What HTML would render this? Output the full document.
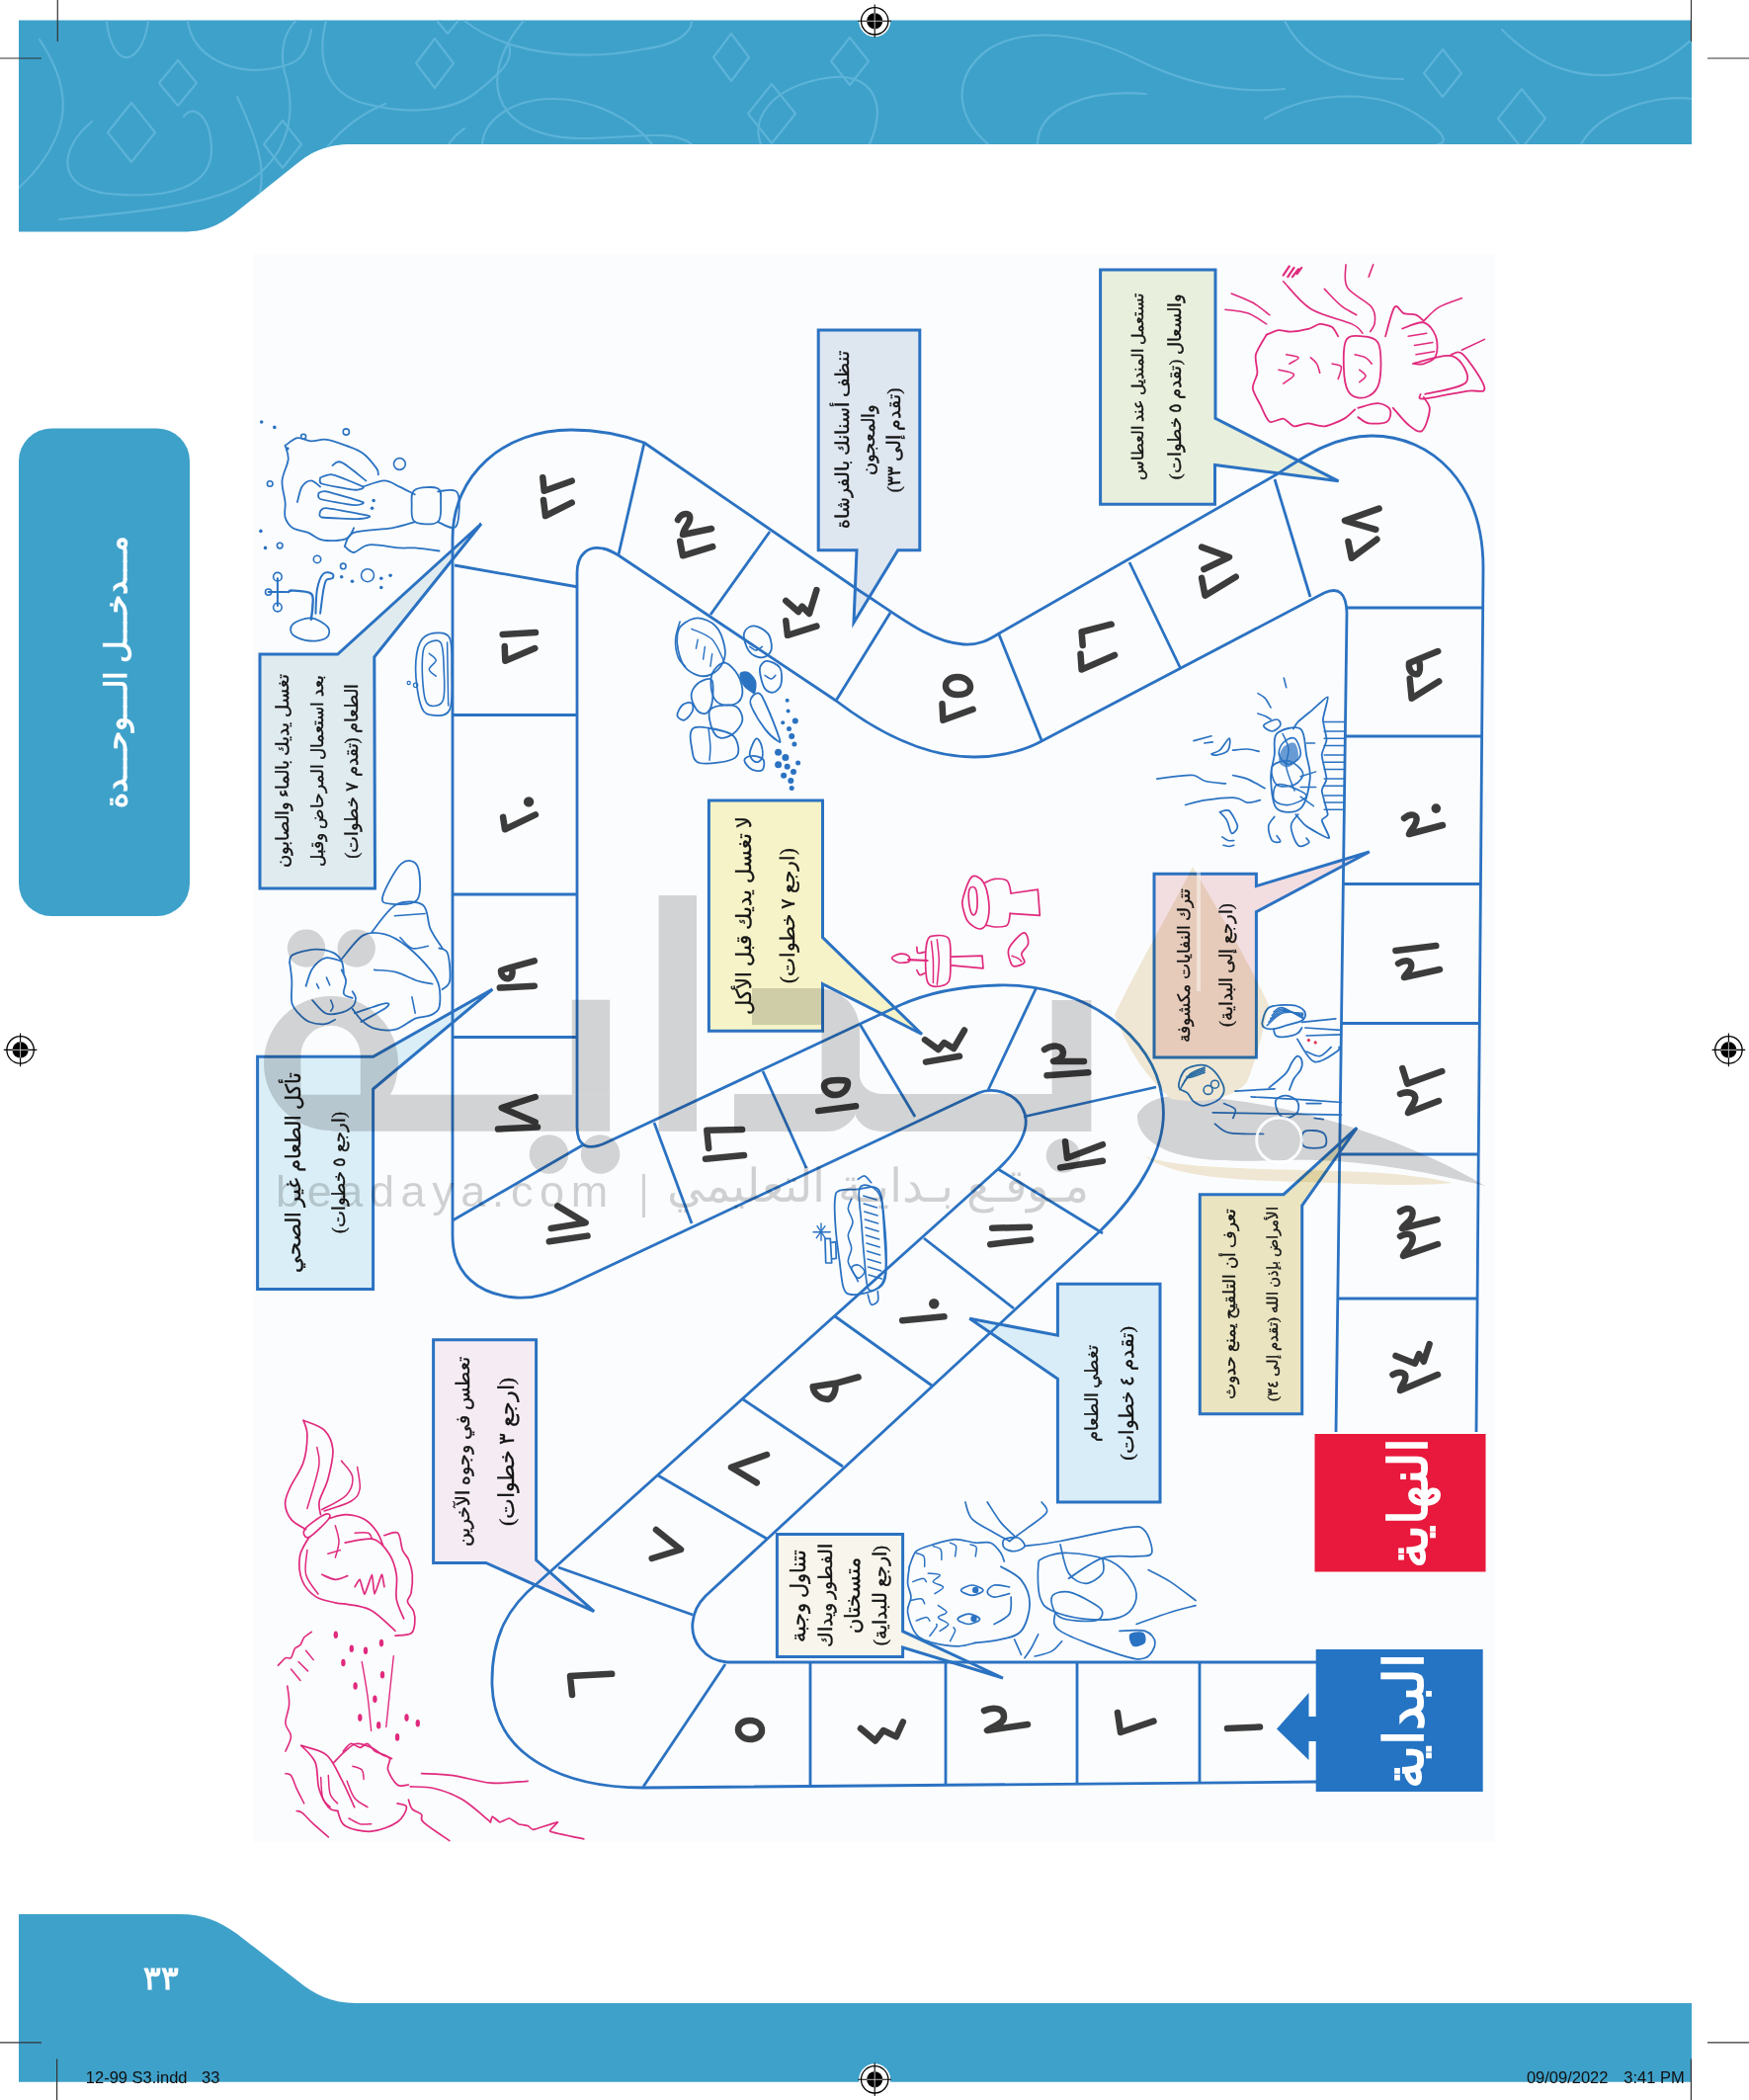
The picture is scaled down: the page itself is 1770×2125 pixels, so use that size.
<!DOCTYPE html>
<html lang="ar"><head><meta charset="utf-8"><title>Page 33</title>
<style>
html,body{margin:0;padding:0;background:#fff;}
body{width:1770px;height:2125px;position:relative;overflow:hidden;font-family:"Liberation Sans",sans-serif;}
svg.main{position:absolute;left:0;top:0;}
.rt{position:absolute;transform:rotate(-90deg);direction:rtl;font-family:"Liberation Serif",serif;white-space:nowrap;}
.wmt{position:absolute;font-family:"Liberation Sans",sans-serif;line-height:60px;color:#000;opacity:0.17;white-space:nowrap;}
.foot{position:absolute;top:2092.5px;font-family:"Liberation Sans",sans-serif;font-size:16.5px;line-height:19px;color:#111;white-space:pre;}
</style></head><body>
<svg class="main" width="1770" height="2125" viewBox="0 0 1770 2125" xmlns="http://www.w3.org/2000/svg"><path d="M19,20.5 H1712 V146 H356 C331,146 316,153 300,166 L241,213 C225,226 210,234.5 186,234.5 H19 Z" fill="#3ea1ca"/><clipPath id="hc"><path d="M19,20.5 H1712 V146 H356 C331,146 316,153 300,166 L241,213 C225,226 210,234.5 186,234.5 H19 Z"/></clipPath><g clip-path="url(#hc)" fill="none" stroke="#5cb3d8" stroke-width="2.2" stroke-linejoin="round" stroke-linecap="round"><path d="M180,61 L199,84 L180,107 L161,84 Z"/><path d="M133,104 L157,134 L133,164 L109,134 Z"/><path d="M286,122 L305,146 L286,170 L267,146 Z"/><path d="M440,39 L459,64 L440,89 L421,64 Z"/><path d="M740,34 L758,58 L740,82 L722,58 Z"/><path d="M781,85 L805,115 L781,145 L757,115 Z"/><path d="M453,10 L463,22 L453,34 L443,22 Z"/><path d="M1460,50 L1479,74 L1460,98 L1441,74 Z"/><path d="M1540,90 L1564,120 L1540,150 L1516,120 Z"/><path d="M860,38 L879,62 L860,86 L841,62 Z"/><path d="M93,123 C60,150 55,190 110,196 C170,202 215,190 214,150 C213,118 196,104 186,118"/><path d="M40,40 C60,70 70,100 60,130 C50,160 30,180 19,190"/><path d="M60,222 C120,216 200,210 240,190 C290,165 300,120 290,80 C280,50 290,30 300,20.5"/><path d="M190,21 C195,60 240,75 270,70 C300,66 310,60 315,30"/><path d="M108,21 C110,45 120,60 130,58 C140,55 148,40 150,21"/><path d="M330,21 C320,60 330,95 370,105 C420,118 460,110 480,95 C510,72 520,60 515,45"/><path d="M300,235 C305,180 330,130 390,105"/><path d="M240,98 C260,140 270,170 262,200 C258,215 262,225 270,232"/><path d="M470,21 C520,60 600,60 650,50 C690,45 700,30 700,21"/><path d="M470,130 C440,150 430,200 460,234"/><path d="M488,146 C490,120 520,100 560,100 C600,100 640,120 660,146"/><path d="M530,21 C480,80 500,140 590,140 C640,140 680,130 700,146"/><path d="M770,146 C760,120 780,90 830,80 C880,70 900,100 880,146"/><path d="M1000,146 C970,120 960,80 1000,50 C1040,25 1100,35 1150,60 C1200,85 1250,95 1300,90"/><path d="M1050,146 C1050,110 1100,90 1160,95"/><path d="M1280,120 C1330,90 1400,90 1440,120 C1470,140 1460,146 1455,146"/><path d="M1300,21 C1320,60 1360,80 1420,80"/><path d="M1520,30 C1560,70 1600,80 1640,75 C1680,70 1700,50 1712,40"/><path d="M1600,146 C1620,110 1680,95 1712,100"/></g><path d="M19,1937 H182 C206,1937 222,1944 240,1957 L302,2005 C318,2018 336,2027 360,2027 H1712 V2106.7 H19 Z" fill="#3ea1ca"/><rect x="19" y="433.5" width="173" height="493.5" rx="33" ry="33" fill="#3ea1ca"/><rect x="256" y="257" width="1257" height="1607" fill="#fbfcfd"/><polygon points="263,662 341.7,662 487,530 378.8,664.9 379.5,899 263,899" fill="#e0ebef" stroke="#2b72c2" stroke-width="3" stroke-linejoin="miter"/><polygon points="260.6,1069.3 377.6,1069.3 498.4,1001 377.6,1102 377.6,1304.5 260.6,1304.5" fill="#daeef7" stroke="#2b72c2" stroke-width="3" stroke-linejoin="miter"/><polygon points="438.6,1355.7 542.6,1355.7 542.6,1578.6 601.2,1630.7 491.7,1581.4 438.6,1581.4" fill="#f5ecf3" stroke="#2b72c2" stroke-width="3" stroke-linejoin="miter"/><polygon points="828.2,334 930.8,334 930.8,556.8 908.7,556.8 864,630 867,556.8 828.2,556.8" fill="#dee6f0" stroke="#2b72c2" stroke-width="3" stroke-linejoin="miter"/><polygon points="1113.6,273 1230,273 1230,423.4 1354.6,486.8 1229.5,470.5 1229.5,510.2 1113.6,510.2" fill="#e8efdc" stroke="#2b72c2" stroke-width="3" stroke-linejoin="miter"/><polygon points="717.4,810 832.5,810 832.5,948.6 933,1046.5 832.5,995.6 832.5,1043.3 717.4,1043.3" fill="#f7f3c8" stroke="#2b72c2" stroke-width="3" stroke-linejoin="miter"/><polygon points="1168,884.2 1271.4,884.2 1271.4,896.6 1385.8,862 1271.4,922.6 1271.4,1070 1168,1070" fill="#f2dde0" stroke="#2b72c2" stroke-width="3" stroke-linejoin="miter"/><polygon points="1070.4,1299.2 1174,1299.2 1174,1520 1070.4,1520 1070.4,1395.2 981.3,1334.2 1070.4,1351.3" fill="#d9edf8" stroke="#2b72c2" stroke-width="3" stroke-linejoin="miter"/><polygon points="1214.3,1208.7 1299,1208.7 1373.2,1141.2 1317.7,1220 1317.7,1430.7 1214.3,1430.7" fill="#eae4c0" stroke="#2b72c2" stroke-width="3" stroke-linejoin="miter"/><polygon points="786.4,1552.6 913.6,1552.6 913.6,1650.7 1015,1698 913.6,1667 913.6,1676.4 786.4,1676.4" fill="#f8f6ec" stroke="#2b72c2" stroke-width="3" stroke-linejoin="miter"/><g fill="none" stroke="#2b72c2" stroke-width="2.8" stroke-linejoin="round"><path d="M1332,1682 H736 C712,1680 699,1660 701,1642 C702,1630 707,1622 714,1615 L1113,1246 C1150,1210 1185,1160 1176,1110 C1168,1050 1100,995 1010,997 C970,998 935,1006 909,1018 L614,1156 Q584,1170 584,1140 V580 C584,560 596,552 610,555 C616,556 621,559 626,562 L846,709 C880,735 930,766 986,766 C1015,766 1040,758 1054,750 L1340,600 Q1362,590 1363,620 L1352,1449"/><path d="M1332,1803 L651,1809 C575,1809 500,1780 498,1705 C497,1655 515,1625 545,1601 L1010,1183 C1030,1165 1045,1140 1035,1122 C1027,1105 1005,1100 990,1106 L570,1303 C550,1312 535,1314 522,1313 C485,1310 458,1290 458,1250 V545 C458,480 510,435 578,435 C605,435 630,440 652,448 L870,598 C905,620 940,650 975,652 C990,653 1000,648 1011,641 L1292,480 C1320,462 1350,441 1388,441 C1450,441 1501,490 1501,575 L1494,1449"/><line x1="1214" y1="1682" x2="1214" y2="1804"/><line x1="1090" y1="1682" x2="1090" y2="1805"/><line x1="957" y1="1682" x2="957" y2="1806"/><line x1="820" y1="1682" x2="820" y2="1807"/><line x1="734" y1="1684" x2="651" y2="1808"/><line x1="565" y1="1586" x2="701" y2="1634"/><line x1="666" y1="1493" x2="776" y2="1557"/><line x1="752" y1="1416" x2="853" y2="1484"/><line x1="845" y1="1332" x2="943" y2="1402"/><line x1="935" y1="1253" x2="1026" y2="1324"/><line x1="1010" y1="1183" x2="1116" y2="1248"/><line x1="1036" y1="1130" x2="1170" y2="1100"/><line x1="1049" y1="999" x2="1000" y2="1103"/><line x1="870" y1="1036" x2="926" y2="1130"/><line x1="772" y1="1084" x2="816" y2="1182"/><line x1="662" y1="1136" x2="700" y2="1238"/><line x1="458" y1="1235" x2="591" y2="1158"/><line x1="458" y1="1049.5" x2="584" y2="1049.5"/><line x1="458" y1="905" x2="584" y2="905"/><line x1="458" y1="723.5" x2="584" y2="723.5"/><line x1="460" y1="572" x2="585" y2="594"/><line x1="652" y1="448" x2="626" y2="561"/><line x1="779" y1="538" x2="719" y2="622"/><line x1="901" y1="620" x2="846" y2="709"/><line x1="1011" y1="642" x2="1054" y2="749"/><line x1="1143" y1="569" x2="1195" y2="677"/><line x1="1290" y1="485" x2="1326" y2="604"/><line x1="1363" y1="615" x2="1501" y2="615"/><line x1="1362" y1="745" x2="1500" y2="745"/><line x1="1360" y1="894.5" x2="1499" y2="894.5"/><line x1="1358" y1="1035.5" x2="1498" y2="1035.5"/><line x1="1356" y1="1168" x2="1497" y2="1168"/><line x1="1354" y1="1314" x2="1495" y2="1314"/></g><g fill="none" stroke-linecap="round" stroke-linejoin="round"><path d="M307.1,1437.3 C307.8,1439.8 310.9,1445.2 310.9,1452.2 C310.9,1459.2 310.0,1470.6 307.1,1479.4 C304.3,1488.3 296.6,1498.4 293.5,1505.4 C290.4,1512.4 288.4,1516.2 288.6,1521.5 C288.8,1526.9 291.3,1533.3 294.8,1537.6 C298.3,1542.0 307.1,1545.9 309.6,1547.5" stroke="#e02a7e" stroke-width="1.7"/><path d="M307.1,1437.3 C310.7,1439.0 323.2,1442.3 328.2,1447.2 C333.1,1452.2 336.2,1458.8 336.9,1467.0 C337.5,1475.3 334.2,1488.1 331.9,1496.8 C329.6,1505.4 324.5,1513.1 323.2,1519.0 C322.0,1525.0 324.3,1530.4 324.5,1532.7" stroke="#e02a7e" stroke-width="1.7"/><path d="M320.8,1464.6 C321.1,1467.9 324.3,1474.1 322.6,1484.4 C321.0,1494.7 312.8,1519.5 310.9,1526.5" stroke="#e02a7e" stroke-width="1.5"/><path d="M345.5,1478.2 C347.4,1480.9 355.8,1488.5 356.7,1494.3 C357.5,1500.1 355.6,1507.3 350.5,1512.9 C345.3,1518.4 329.8,1525.2 325.7,1527.7" stroke="#e02a7e" stroke-width="1.5"/><path d="M361.6,1484.4 C362.0,1488.1 365.1,1500.9 364.1,1506.7 C363.1,1512.4 361.4,1515.3 355.4,1519.0 C349.4,1522.8 332.7,1527.3 328.2,1529.0" stroke="#e02a7e" stroke-width="1.5"/><path d="M308.4,1547.5 C305.8,1551.3 308.6,1557.4 312.7,1555.6 C316.8,1553.7 330.6,1540.2 333.1,1536.4 C335.7,1532.6 332.3,1530.8 328.2,1532.7 C324.1,1534.5 311.0,1543.7 308.4,1547.5 Z" stroke="#e02a7e" stroke-width="1.7"/><path d="M312.7,1555.6 C311.2,1558.8 304.6,1567.4 303.4,1574.8 C302.3,1582.1 303.2,1592.7 305.9,1599.5 C308.6,1606.3 314.0,1611.9 319.5,1615.6 C325.1,1619.3 334.4,1620.6 339.3,1621.8 C344.3,1623.0 347.6,1622.8 349.2,1623.0" stroke="#e02a7e" stroke-width="1.7"/><path d="M333.1,1536.4 C336.0,1535.8 344.5,1532.5 350.5,1532.7 C356.5,1532.9 363.9,1534.7 369.0,1537.6 C374.2,1540.5 378.3,1545.7 381.4,1550.0 C384.5,1554.3 386.6,1561.3 387.6,1563.6" stroke="#e02a7e" stroke-width="1.7"/><path d="M349.2,1561.1 C354.0,1560.5 370.3,1555.6 377.7,1557.4 C385.1,1559.3 389.9,1566.3 393.8,1572.3 C397.7,1578.3 400.0,1585.7 401.2,1593.3 C402.5,1601.0 400.0,1610.7 401.2,1618.1 C402.5,1625.5 407.4,1634.6 408.7,1637.9" stroke="#e02a7e" stroke-width="1.7"/><path d="M388.9,1553.7 C391.1,1553.3 399.4,1548.8 402.5,1551.2 C405.6,1553.7 405.6,1564.0 407.4,1568.6 C409.3,1573.1 412.0,1574.3 413.6,1578.5 C415.3,1582.6 416.9,1587.8 417.3,1593.3 C417.7,1598.9 416.9,1607.4 416.1,1611.9 C415.3,1616.4 412.0,1617.5 412.4,1620.6 C412.8,1623.7 417.3,1627.0 418.6,1630.5 C419.8,1634.0 420.2,1637.9 419.8,1641.6 C419.4,1645.3 419.4,1650.5 416.1,1652.8 C412.8,1655.0 402.7,1654.8 400.0,1655.2" stroke="#e02a7e" stroke-width="1.7"/><path d="M349.2,1623.0 C353.6,1624.1 366.8,1624.7 375.2,1629.2 C383.7,1633.8 395.9,1646.8 400.0,1650.3" stroke="#e02a7e" stroke-width="1.7"/><path d="M359.1,1605.7 C359.5,1605.2 363.4,1597.8 364.1,1598.3 C364.8,1598.8 368.2,1613.5 369.0,1613.1 C369.9,1612.8 375.8,1593.3 376.5,1593.3 C377.1,1593.3 378.3,1613.1 379.0,1613.1 C379.6,1613.1 385.7,1593.8 386.4,1593.3 C387.0,1592.8 388.7,1604.9 388.9,1605.7" stroke="#e02a7e" stroke-width="1.7"/><path d="M325.7,1593.3 C328.0,1594.2 335.0,1598.1 339.3,1598.3 C343.7,1598.5 349.7,1595.2 351.7,1594.6" stroke="#e02a7e" stroke-width="1.7"/><path d="M331.9,1572.3 L344.3,1568.6" stroke="#e02a7e" stroke-width="1.5"/><path d="M359.1,1551.2 C361.4,1551.2 369.9,1550.2 372.8,1551.2 C375.6,1552.3 375.9,1556.4 376.5,1557.4" stroke="#e02a7e" stroke-width="1.5"/><path d="M339.3,1543.8 C340.0,1546.5 343.0,1554.5 343.0,1559.9 C343.0,1565.3 340.0,1573.3 339.3,1576.0" stroke="#e02a7e" stroke-width="1.5"/><path d="M310.9,1568.6 C310.7,1572.7 307.8,1585.9 309.6,1593.3 C311.5,1600.8 319.9,1609.8 322.0,1613.1" stroke="#e02a7e" stroke-width="1.5"/><path d="M304.9,1766.4 C309.2,1768.0 323.6,1770.2 330.4,1775.8 C337.1,1781.5 340.8,1791.6 345.5,1800.4 C350.2,1809.2 356.5,1824.0 358.7,1828.7" stroke="#e02a7e" stroke-width="1.7"/><path d="M304.9,1766.4 C307.3,1769.2 316.1,1776.2 319.1,1783.4 C322.0,1790.6 320.6,1802.3 322.8,1809.8 C325.0,1817.4 329.1,1824.9 332.3,1828.7 C335.4,1832.5 340.1,1831.8 341.7,1832.5" stroke="#e02a7e" stroke-width="1.7"/><path d="M337.9,1783.4 C339.8,1781.5 345.5,1775.2 349.2,1772.1 C353.0,1768.9 356.2,1765.2 360.6,1764.5 C365.0,1763.9 371.3,1766.4 375.7,1768.3 C380.1,1770.2 383.8,1774.0 387.0,1775.8 C390.1,1777.7 393.6,1777.1 394.5,1779.6 C395.5,1782.1 391.4,1786.5 392.6,1790.9 C393.9,1795.3 398.6,1803.5 402.1,1806.0 C405.5,1808.6 411.5,1806.0 413.4,1806.0" stroke="#e02a7e" stroke-width="1.7"/><path d="M347.4,1772.1 C348.6,1770.8 352.1,1765.2 354.9,1764.5 C357.7,1763.9 361.5,1768.3 364.3,1768.3 C367.2,1768.3 369.4,1763.9 371.9,1764.5 C374.4,1765.2 376.6,1770.2 379.4,1772.1 C382.3,1774.0 386.0,1774.6 388.9,1775.8 C391.7,1777.1 395.2,1779.0 396.4,1779.6" stroke="#e02a7e" stroke-width="1.7"/><path d="M341.7,1832.5 C343.0,1835.0 343.6,1844.1 349.2,1847.5 C354.9,1851.0 366.9,1853.8 375.7,1853.2 C384.5,1852.6 396.1,1847.9 402.1,1843.8 C408.1,1839.7 411.5,1831.8 411.5,1828.7 C411.5,1825.5 403.6,1825.5 402.1,1824.9" stroke="#e02a7e" stroke-width="1.7"/><path d="M324.7,1798.5 C325.0,1801.9 325.0,1814.2 326.6,1819.2 C328.2,1824.3 332.9,1827.1 334.2,1828.7" stroke="#e02a7e" stroke-width="1.5"/><path d="M332.3,1796.6 C332.6,1799.7 332.6,1810.8 334.2,1815.5 C335.7,1820.2 340.4,1823.3 341.7,1824.9" stroke="#e02a7e" stroke-width="1.5"/><path d="M351.1,1802.3 C352.4,1805.1 355.2,1814.8 358.7,1819.2 C362.1,1823.6 369.7,1827.1 371.9,1828.7" stroke="#e02a7e" stroke-width="1.5"/><path d="M356.8,1787.2 C358.4,1787.8 364.3,1788.7 366.2,1790.9 C368.1,1793.1 367.8,1798.8 368.1,1800.4" stroke="#e02a7e" stroke-width="1.5"/><path d="M353.0,1840.0 C354.9,1840.9 360.6,1844.7 364.3,1845.7 C368.1,1846.6 373.8,1845.7 375.7,1845.7" stroke="#e02a7e" stroke-width="1.5"/><path d="M415.3,1807.9 C419.4,1808.2 431.0,1807.6 439.8,1809.8 C448.6,1812.0 458.7,1815.5 468.1,1821.1 C477.5,1826.8 491.7,1840.0 496.4,1843.8" stroke="#e02a7e" stroke-width="1.7"/><path d="M496.4,1843.8 C496.5,1843.4 497.7,1838.1 498.3,1838.1 C498.9,1838.1 504.7,1843.6 505.8,1843.8 C507.0,1843.9 514.0,1839.9 515.3,1840.0 C516.5,1840.1 523.5,1845.2 524.7,1845.7 C526.0,1846.2 533.1,1847.2 534.2,1847.5 C535.2,1847.9 537.8,1851.6 539.8,1851.3 C541.8,1851.1 563.2,1843.6 564.3,1843.8 C565.5,1843.9 555.0,1852.1 556.8,1853.2 C558.6,1854.3 588.5,1860.3 590.8,1860.8" stroke="#e02a7e" stroke-width="1.7"/><path d="M426.6,1794.7 C431.9,1795.0 447.0,1795.0 458.7,1796.6 C470.3,1798.2 483.8,1803.2 496.4,1804.2 C509.0,1805.1 527.9,1802.6 534.2,1802.3" stroke="#e02a7e" stroke-width="1.7"/><path d="M413.4,1821.1 C414.0,1822.7 415.0,1828.1 417.2,1830.6 C419.4,1833.1 424.7,1834.0 426.6,1836.2 C428.5,1838.4 423.8,1839.4 428.5,1843.8 C433.2,1848.2 450.5,1859.5 454.9,1862.6" stroke="#e02a7e" stroke-width="1.7"/><path d="M366.2,1681.5 C367.2,1687.2 370.3,1703.8 371.9,1715.5 C373.5,1727.1 375.0,1745.3 375.7,1751.3" stroke="#e02a7e" stroke-width="1.4"/><path d="M398.3,1675.8 C397.7,1681.8 395.8,1699.7 394.5,1711.7 C393.3,1723.6 391.4,1741.6 390.8,1747.5" stroke="#e02a7e" stroke-width="1.4"/><path d="M281.3,1685.3 C282.1,1684.5 287.5,1678.5 288.9,1677.7 C290.2,1677.0 293.6,1678.7 294.5,1677.7 C295.5,1676.8 297.4,1669.6 298.3,1668.3 C299.2,1667.0 303.0,1665.7 304.0,1664.5 C304.9,1663.4 306.6,1658.3 307.7,1657.0 C308.9,1655.7 314.5,1651.9 315.3,1651.3" stroke="#e02a7e" stroke-width="1.6"/><path d="M294.5,1689.1 L304.0,1700.4" stroke="#e02a7e" stroke-width="1.5"/><path d="M302.1,1681.5 L311.5,1690.9" stroke="#e02a7e" stroke-width="1.5"/><path d="M309.6,1670.2 L317.2,1679.6" stroke="#e02a7e" stroke-width="1.5"/><path d="M290.8,1706.0 C291.1,1709.2 293.0,1718.6 292.6,1724.9 C292.3,1731.2 288.6,1738.4 288.9,1743.8 C289.2,1749.1 294.5,1752.3 294.5,1757.0 C294.5,1761.7 289.8,1769.6 288.9,1772.1" stroke="#e02a7e" stroke-width="1.6"/><path d="M288.9,1794.7 C289.8,1795.0 292.6,1794.1 294.5,1796.6 C296.4,1799.1 298.0,1805.1 300.2,1809.8 C302.4,1814.5 306.5,1822.4 307.7,1824.9" stroke="#e02a7e" stroke-width="1.6"/><path d="M300.2,1832.5 C301.1,1832.8 303.0,1832.1 305.8,1834.3 C308.7,1836.5 312.8,1841.6 317.2,1845.7 C321.6,1849.7 329.7,1856.7 332.3,1858.9" stroke="#e02a7e" stroke-width="1.6"/><ellipse cx="339.8" cy="1654.2" rx="2.2" ry="3.8" fill="#e02a7e"/><ellipse cx="355.8" cy="1668.3" rx="2.2" ry="3.8" fill="#e02a7e"/><ellipse cx="370.0" cy="1670.2" rx="2.2" ry="3.8" fill="#e02a7e"/><ellipse cx="386.0" cy="1662.6" rx="2.2" ry="3.8" fill="#e02a7e"/><ellipse cx="347.4" cy="1682.5" rx="2.2" ry="3.8" fill="#e02a7e"/><ellipse cx="359.6" cy="1706.0" rx="2.2" ry="3.8" fill="#e02a7e"/><ellipse cx="379.4" cy="1719.2" rx="2.2" ry="3.8" fill="#e02a7e"/><ellipse cx="387.0" cy="1694.7" rx="2.2" ry="3.8" fill="#e02a7e"/><ellipse cx="364.3" cy="1738.1" rx="2.2" ry="3.8" fill="#e02a7e"/><ellipse cx="383.2" cy="1745.7" rx="2.2" ry="3.8" fill="#e02a7e"/><ellipse cx="411.5" cy="1738.1" rx="2.2" ry="3.8" fill="#e02a7e"/><ellipse cx="422.8" cy="1743.8" rx="2.2" ry="3.8" fill="#e02a7e"/><ellipse cx="402.1" cy="1757.9" rx="2.2" ry="3.8" fill="#e02a7e"/><path d="M1281.7,338.7 C1280.2,341.4 1272.1,353.7 1270.9,358.8 C1269.6,363.9 1272.8,372.8 1272.4,377.3 C1272.0,381.8 1267.4,388.4 1267.8,392.8 C1268.2,397.1 1273.2,405.2 1275.5,409.7 C1277.8,414.3 1281.7,424.9 1284.8,426.7 C1287.9,428.6 1295.4,423.0 1298.7,423.6 C1302.0,424.2 1306.2,430.7 1309.5,431.3 C1312.8,432.0 1319.2,428.3 1323.4,428.3 C1327.5,428.3 1335.4,432.0 1340.3,431.3 C1345.3,430.7 1356.3,425.9 1360.4,423.6 C1364.5,421.4 1369.8,415.6 1371.2,414.4" stroke="#e02a7e" stroke-width="1.8"/><path d="M1281.7,338.7 C1283.3,338.1 1290.7,334.5 1294.0,334.1 C1297.3,333.7 1302.3,335.8 1306.4,335.6 C1310.5,335.4 1321.0,333.6 1324.9,332.6 C1328.8,331.5 1332.6,328.1 1335.7,327.9 C1338.8,327.7 1345.6,329.4 1348.1,331.0 C1350.5,332.7 1353.4,339.0 1354.2,340.3" stroke="#e02a7e" stroke-width="1.8"/><path d="M1362.0,344.9 C1365.0,338.2 1373.5,340.0 1378.9,340.3 C1384.3,340.5 1391.3,341.8 1394.4,346.4 C1397.5,351.1 1397.5,360.6 1397.5,368.1 C1397.5,375.5 1396.9,385.6 1394.4,391.2 C1391.8,396.9 1386.7,400.7 1382.0,402.0 C1377.4,403.3 1370.2,402.5 1366.6,398.9 C1363.0,395.3 1361.2,389.4 1360.4,380.4 C1359.6,371.4 1358.9,351.6 1362.0,344.9 Z" stroke="#e02a7e" stroke-width="1.8"/><path d="M1301.7,358.8 C1303.8,359.3 1313.6,360.3 1314.1,361.9 C1314.6,363.4 1306.4,367.0 1304.8,368.1" stroke="#e02a7e" stroke-width="1.6"/><path d="M1294.0,374.2 C1296.6,375.0 1308.7,376.5 1309.5,378.9 C1310.2,381.2 1300.5,386.6 1298.7,388.1" stroke="#e02a7e" stroke-width="1.6"/><path d="M1326.4,361.9 C1327.5,362.9 1331.1,365.5 1332.6,368.1 C1334.2,370.6 1335.2,375.8 1335.7,377.3" stroke="#e02a7e" stroke-width="1.6"/><path d="M1348.1,368.1 C1349.6,368.6 1356.3,368.6 1357.3,371.1 C1358.3,373.7 1354.7,381.4 1354.2,383.5" stroke="#e02a7e" stroke-width="1.6"/><path d="M1371.2,358.8 C1373.0,359.3 1379.2,360.3 1382.0,361.9 C1384.8,363.4 1387.2,367.0 1388.2,368.1" stroke="#e02a7e" stroke-width="1.6"/><path d="M1375.8,374.2 C1376.9,375.3 1382.0,378.3 1382.0,380.4 C1382.0,382.5 1376.9,385.6 1375.8,386.6" stroke="#e02a7e" stroke-width="1.6"/><path d="M1419.1,332.6 C1422.7,331.5 1435.0,325.1 1440.7,326.4 C1446.3,327.7 1451.0,334.6 1453.0,340.3 C1455.1,345.9 1455.1,355.7 1453.0,360.3 C1451.0,365.0 1444.3,366.8 1440.7,368.1 C1437.1,369.3 1433.0,368.1 1431.4,368.1" stroke="#e02a7e" stroke-width="1.8"/><path d="M1425.2,340.3 L1443.8,337.2" stroke="#e02a7e" stroke-width="1.5"/><path d="M1431.4,349.5 L1449.9,346.4" stroke="#e02a7e" stroke-width="1.5"/><path d="M1433.0,358.8 L1451.5,355.7" stroke="#e02a7e" stroke-width="1.5"/><path d="M1402.1,340.3 C1403.6,335.4 1408.3,314.8 1411.3,310.9 C1414.4,307.1 1417.0,315.8 1420.6,317.1 C1424.2,318.4 1429.6,317.4 1433.0,318.7 C1436.3,319.9 1439.4,323.8 1440.7,324.8" stroke="#e02a7e" stroke-width="1.8"/><path d="M1468.5,358.8 C1470.5,358.8 1475.2,353.1 1480.8,358.8 C1486.5,364.5 1501.9,386.6 1502.4,392.8 C1502.9,398.9 1494.2,394.0 1483.9,395.8 C1473.6,397.6 1448.4,403.0 1440.7,403.6 C1433.0,404.1 1438.1,399.7 1437.6,398.9" stroke="#e02a7e" stroke-width="1.8"/><path d="M1429.9,368.1 C1436.6,366.8 1461.0,357.3 1470.0,360.3 C1479.0,363.4 1488.5,380.2 1483.9,386.6 C1479.3,393.0 1449.2,396.9 1442.2,398.9" stroke="#e02a7e" stroke-width="1.8"/><path d="M1374.3,412.8 C1377.6,412.1 1389.0,407.9 1394.4,408.2 C1399.8,408.5 1405.2,411.3 1406.7,414.4 C1408.3,417.5 1407.2,424.4 1403.6,426.7 C1400.0,429.0 1390.0,429.0 1385.1,428.3 C1380.2,427.5 1376.1,423.1 1374.3,422.1" stroke="#e02a7e" stroke-width="1.8"/><path d="M1409.8,412.8 C1412.4,415.7 1420.4,425.9 1425.2,429.8 C1430.1,433.7 1435.5,438.6 1439.1,436.0 C1442.7,433.4 1446.6,420.0 1446.9,414.4 C1447.1,408.7 1441.7,404.1 1440.7,402.0" stroke="#e02a7e" stroke-width="1.8"/><path d="M1246.2,297.0 C1249.8,298.6 1261.4,302.7 1267.8,306.3 C1274.2,309.9 1281.9,316.6 1284.8,318.7" stroke="#e02a7e" stroke-width="1.6"/><path d="M1240.0,313.3 C1243.9,313.9 1256.2,314.7 1263.2,317.1 C1270.1,319.6 1278.6,326.1 1281.7,327.9" stroke="#e02a7e" stroke-width="1.6"/><path d="M1298.7,284.7 C1303.3,289.3 1314.9,305.3 1326.4,312.5 C1338.0,319.7 1359.4,323.8 1368.1,327.9 C1376.9,332.0 1377.1,335.6 1378.9,337.2" stroke="#e02a7e" stroke-width="1.6"/><path d="M1340.3,292.4 C1343.2,295.2 1351.9,305.0 1357.3,309.4 C1362.7,313.8 1370.2,317.1 1372.8,318.7" stroke="#e02a7e" stroke-width="1.6"/><path d="M1362.0,267.7 C1362.2,271.6 1359.1,283.7 1363.5,290.9 C1367.9,298.1 1383.6,305.0 1388.2,310.9 C1392.8,316.9 1391.5,322.3 1391.3,326.4 C1391.0,330.5 1387.4,334.1 1386.7,335.6" stroke="#e02a7e" stroke-width="1.6"/><path d="M1389.7,267.7 L1385.1,280.1" stroke="#e02a7e" stroke-width="1.6"/><path d="M1440.7,324.8 C1443.3,322.5 1449.7,314.8 1456.1,310.9 C1462.5,307.1 1475.4,303.2 1479.3,301.7" stroke="#e02a7e" stroke-width="1.6"/><path d="M1479.3,354.2 L1502.4,343.4" stroke="#e02a7e" stroke-width="1.6"/><path d="M1298.7,278.5 L1304.8,269.3" stroke="#e02a7e" stroke-width="2.2"/><path d="M1303.3,280.1 L1309.5,270.8" stroke="#e02a7e" stroke-width="2.2"/><path d="M1307.9,280.1 L1314.1,272.3" stroke="#e02a7e" stroke-width="2.2"/><path d="M1312.6,277.0 L1317.2,270.8" stroke="#e02a7e" stroke-width="2.2"/><path d="M288.6,450.9 C290.7,449.7 296.6,444.0 300.9,443.2 C305.3,442.5 309.9,446.1 314.8,446.3 C319.7,446.6 324.4,444.0 330.3,444.8 C336.2,445.5 344.2,448.6 350.3,450.9 C356.5,453.3 362.2,454.8 367.3,458.7 C372.5,462.5 378.6,470.5 381.2,474.1 C383.8,477.7 382.5,479.2 382.8,480.3" stroke="#2a72c2" stroke-width="1.8"/><path d="M288.6,450.9 C289.1,453.3 292.2,458.9 291.7,464.8 C291.2,470.8 286.0,479.2 285.5,486.4 C285.0,493.7 288.1,501.9 288.6,508.1 C289.1,514.2 287.3,519.1 288.6,523.5 C289.9,527.9 292.5,531.7 296.3,534.3 C300.2,536.9 306.6,536.9 311.7,538.9 C316.9,541.0 320.8,545.6 327.2,546.7 C333.6,547.7 345.2,547.2 350.3,545.1 C355.5,543.0 356.8,536.1 358.1,534.3" stroke="#2a72c2" stroke-width="1.8"/><path d="M300.9,508.1 C301.7,505.5 303.3,496.2 305.6,492.6 C307.9,489.0 311.7,486.4 314.8,486.4 C317.9,486.4 322.6,491.6 324.1,492.6" stroke="#2a72c2" stroke-width="1.8"/><path d="M324.1,483.4 C325.3,483.1 332.1,479.3 336.4,480.3 C340.8,481.2 365.2,491.1 367.3,492.6 C369.5,494.2 362.2,496.0 358.1,495.7 C353.9,495.4 329.0,490.8 325.6,489.5 C322.2,488.3 324.3,484.0 324.1,483.4" stroke="#2a72c2" stroke-width="1.8"/><path d="M322.6,498.8 C323.3,498.6 325.8,496.3 330.3,497.3 C334.7,498.2 364.5,506.7 367.3,508.1 C370.1,509.4 362.4,511.5 358.1,511.1 C353.7,510.8 327.6,506.2 324.1,505.0 C320.5,503.7 322.7,499.4 322.6,498.8" stroke="#2a72c2" stroke-width="1.8"/><path d="M324.1,517.3 C324.7,517.0 325.3,513.8 330.3,514.2 C335.2,514.7 370.1,520.9 373.5,522.0 C376.9,523.0 369.0,524.9 364.2,525.0 C359.4,525.2 329.7,524.3 325.6,523.5 C321.6,522.7 324.3,517.9 324.1,517.3" stroke="#2a72c2" stroke-width="1.8"/><path d="M336.4,471.0 C338.0,470.5 340.0,465.3 345.7,467.9 C351.4,470.5 366.3,483.4 370.4,486.4" stroke="#2a72c2" stroke-width="1.8"/><path d="M367.3,492.6 C370.9,491.6 382.8,486.4 388.9,486.4 C395.1,486.4 399.2,490.3 404.4,492.6 C409.5,494.9 417.2,499.1 419.8,500.3" stroke="#2a72c2" stroke-width="1.8"/><path d="M419.8,495.7 C424.2,492.9 438.6,492.1 443.0,494.2 C447.3,496.2 446.0,502.4 446.0,508.1 C446.0,513.7 447.3,524.8 443.0,528.1 C438.6,531.5 424.2,531.0 419.8,528.1 C415.4,525.3 416.7,516.5 416.7,511.1 C416.7,505.7 415.4,498.5 419.8,495.7 Z" stroke="#2a72c2" stroke-width="1.8"/><path d="M443.0,497.3 C446.3,497.5 459.9,492.9 463.0,498.8 C466.1,504.7 464.8,527.9 461.5,532.8 C458.1,537.6 446.0,528.9 443.0,528.1" stroke="#2a72c2" stroke-width="1.8"/><path d="M348.8,552.8 C350.3,550.5 350.1,542.0 358.1,538.9 C366.0,535.8 386.4,536.1 396.7,534.3 C406.9,532.5 415.9,529.2 419.8,528.1" stroke="#2a72c2" stroke-width="1.8"/><path d="M348.8,552.8 C350.3,553.9 353.9,559.3 358.1,559.0 C362.2,558.7 365.8,552.1 373.5,551.3 C381.2,550.5 396.7,553.9 404.4,554.4 C412.1,554.9 413.1,553.9 419.8,554.4 C426.5,554.9 440.4,556.9 444.5,557.5" stroke="#2a72c2" stroke-width="1.8"/><path d="M296.3,631.6 C299.4,628.7 308.9,624.9 314.8,625.4 C320.8,625.9 329.2,631.3 331.8,634.6 C334.4,638.0 333.4,643.1 330.3,645.4 C327.2,647.8 319.0,649.0 313.3,648.5 C307.6,648.0 299.1,645.2 296.3,642.4 C293.5,639.5 293.2,634.4 296.3,631.6 Z" stroke="#2a72c2" stroke-width="1.8"/><path d="M314.8,626.9 C315.1,624.6 316.4,617.4 316.4,613.0 C316.4,608.7 318.2,603.3 314.8,600.7 C311.5,598.1 300.2,597.8 296.3,597.6 C292.5,597.3 292.5,598.9 291.7,599.1" stroke="#2a72c2" stroke-width="2.4"/><path d="M319.5,620.7 C319.7,616.6 319.7,602.7 321.0,596.0 C322.3,589.4 324.6,583.2 327.2,580.6 C329.8,578.0 334.9,579.8 336.4,580.6 C338.0,581.4 337.5,584.2 336.4,585.2 C335.4,586.3 331.8,584.7 330.3,586.8 C328.7,588.8 328.2,591.9 327.2,597.6 C326.2,603.3 324.6,616.9 324.1,620.7" stroke="#2a72c2" stroke-width="2.0"/><path d="M280.9,585.2 L280.9,613.0" stroke="#2a72c2" stroke-width="2.0"/><path d="M271.6,599.1 L290.1,599.1" stroke="#2a72c2" stroke-width="2.0"/><circle cx="280.9" cy="583.7" r="4.3" fill="none" stroke="#2a72c2" stroke-width="1.6"/><circle cx="280.9" cy="614.6" r="4.3" fill="none" stroke="#2a72c2" stroke-width="1.6"/><circle cx="271.6" cy="599.1" r="3.1" fill="none" stroke="#2a72c2" stroke-width="1.6"/><circle cx="307.1" cy="441.7" r="2.5" fill="none" stroke="#2a72c2" stroke-width="1.6"/><circle cx="350.3" cy="437.0" r="3.1" fill="none" stroke="#2a72c2" stroke-width="1.6"/><circle cx="404.4" cy="469.5" r="5.9" fill="none" stroke="#2a72c2" stroke-width="1.6"/><circle cx="273.2" cy="489.5" r="2.8" fill="none" stroke="#2a72c2" stroke-width="1.6"/><circle cx="283.2" cy="552.1" r="2.8" fill="none" stroke="#2a72c2" stroke-width="1.6"/><circle cx="321.0" cy="565.9" r="3.7" fill="none" stroke="#2a72c2" stroke-width="1.6"/><circle cx="347.3" cy="572.9" r="2.8" fill="none" stroke="#2a72c2" stroke-width="1.6"/><circle cx="372.0" cy="582.2" r="6.5" fill="none" stroke="#2a72c2" stroke-width="1.6"/><circle cx="264.7" cy="427.0" r="1.8" fill="#2a72c2"/><circle cx="277.8" cy="432.4" r="1.8" fill="#2a72c2"/><circle cx="263.9" cy="537.4" r="1.8" fill="#2a72c2"/><circle cx="268.5" cy="554.4" r="1.8" fill="#2a72c2"/><circle cx="290.9" cy="454.0" r="1.8" fill="#2a72c2"/><circle cx="378.1" cy="506.5" r="1.8" fill="#2a72c2"/><circle cx="376.6" cy="514.2" r="1.8" fill="#2a72c2"/><circle cx="385.8" cy="585.2" r="1.8" fill="#2a72c2"/><circle cx="395.1" cy="582.2" r="1.8" fill="#2a72c2"/><circle cx="345.7" cy="583.7" r="1.8" fill="#2a72c2"/><circle cx="356.5" cy="588.3" r="1.8" fill="#2a72c2"/><circle cx="385.8" cy="594.5" r="1.8" fill="#2a72c2"/><path d="M293.1,973.8 C293.7,972.5 292.2,968.3 296.4,966.1 C300.6,963.9 311.6,961.0 318.3,960.6 C325.1,960.3 332.4,961.9 337.0,963.9 C341.5,965.9 343.9,969.2 345.7,972.7 C347.5,976.1 347.5,982.7 347.9,984.7" stroke="#2a72c2" stroke-width="1.8"/><path d="M293.1,973.8 C293.5,976.9 295.0,985.6 295.3,992.4 C295.7,999.1 294.2,1008.8 295.3,1014.3 C296.4,1019.8 299.0,1022.0 301.9,1025.2 C304.8,1028.5 308.3,1032.2 312.9,1034.0 C317.4,1035.8 324.9,1036.6 329.3,1036.2 C333.7,1035.8 337.5,1032.5 339.1,1031.8" stroke="#2a72c2" stroke-width="1.8"/><path d="M309.6,997.9 C310.7,994.9 312.9,985.1 316.1,980.3 C319.4,975.6 324.4,970.7 329.3,969.4 C334.2,968.1 343.0,972.1 345.7,972.7" stroke="#2a72c2" stroke-width="1.8"/><path d="M316.1,1012.1 C318.3,1014.3 324.7,1023.1 329.3,1025.2 C333.9,1027.4 339.0,1026.3 343.5,1025.2 C348.1,1024.2 353.9,1021.2 356.7,1018.7 C359.4,1016.1 360.0,1012.5 360.0,1009.9 C360.0,1007.4 357.2,1004.4 356.7,1003.3" stroke="#2a72c2" stroke-width="1.8"/><path d="M345.7,970.5 C349.4,966.5 360.3,950.6 367.6,946.4 C374.9,942.2 382.2,943.5 389.5,945.3 C396.8,947.1 403.8,951.3 411.4,957.3 C419.1,963.4 430.1,974.7 435.5,981.4 C441.0,988.2 442.8,991.5 444.3,997.9 C445.8,1004.3 445.8,1014.8 444.3,1019.8 C442.8,1024.7 439.5,1025.6 435.5,1027.4 C431.5,1029.3 426.0,1028.3 420.2,1030.7 C414.4,1033.1 407.4,1040.0 400.5,1041.7 C393.5,1043.3 384.4,1042.2 378.6,1040.6 C372.7,1038.9 369.1,1035.1 365.4,1031.8 C361.8,1028.5 358.1,1022.7 356.7,1020.9" stroke="#2a72c2" stroke-width="1.8"/><path d="M376.4,943.1 C380.4,938.5 391.9,920.3 400.5,915.7 C409.1,911.2 422.0,911.7 427.9,915.7 C433.7,919.7 432.2,932.5 435.5,939.8 C438.8,947.1 445.6,956.2 447.6,959.5" stroke="#2a72c2" stroke-width="1.8"/><path d="M387.3,907.0 C389.2,900.2 400.1,879.2 406.0,874.1 C411.8,869.0 419.6,870.3 422.4,876.3 C425.1,882.3 427.0,903.9 422.4,910.2 C417.8,916.6 400.8,915.2 395.0,914.6 C389.2,914.1 385.5,913.7 387.3,907.0 Z" stroke="#2a72c2" stroke-width="1.8"/><path d="M399.4,926.7 L430.1,924.5" stroke="#2a72c2" stroke-width="1.6"/><path d="M404.9,948.6 C406.9,950.4 412.2,958.1 416.9,959.5 C421.7,961.0 430.6,957.7 433.3,957.3" stroke="#2a72c2" stroke-width="1.6"/><path d="M378.6,981.4 C382.2,981.8 393.2,981.8 400.5,983.6 C407.8,985.5 416.2,990.4 422.4,992.4 C428.6,994.4 435.2,995.1 437.7,995.7" stroke="#2a72c2" stroke-width="1.6"/><path d="M416.9,1008.8 L420.2,1025.2" stroke="#2a72c2" stroke-width="1.6"/><path d="M444.3,959.5 C445.8,960.4 451.2,959.5 453.1,965.0 C454.9,970.5 456.2,986.4 455.2,992.4 C454.3,998.4 448.9,999.7 447.6,1001.2" stroke="#2a72c2" stroke-width="1.8"/><path d="M358.9,1025.2 C364.0,1023.6 384.2,1016.3 389.5,1015.4 C394.8,1014.5 394.6,1016.7 390.6,1019.8 C386.6,1022.9 369.6,1031.6 365.4,1034.0" stroke="#2a72c2" stroke-width="1.8"/><path d="M345.7,981.4 C346.4,983.3 349.7,988.4 350.1,992.4 C350.5,996.4 346.8,1002.6 347.9,1005.5 C349.0,1008.5 355.2,1009.2 356.7,1009.9" stroke="#2a72c2" stroke-width="1.8"/><path d="M320.5,995.7 L322.7,1000.1" stroke="#2a72c2" stroke-width="1.6"/><path d="M330.4,989.1 L333.7,996.8" stroke="#2a72c2" stroke-width="1.6"/><path d="M334.8,1012.1 C335.1,1013.2 337.0,1016.8 337.0,1018.7 C337.0,1020.5 335.1,1022.3 334.8,1023.1" stroke="#2a72c2" stroke-width="1.6"/><path d="M689.9,632.7 C693.4,629.8 700.5,625.3 706.2,625.4 C711.9,625.6 719.8,628.7 724.3,633.6 C728.8,638.4 732.1,648.2 733.3,654.4 C734.6,660.6 733.8,666.0 731.5,670.7 C729.3,675.4 724.0,680.3 719.8,682.4 C715.6,684.6 710.7,684.7 706.2,683.3 C701.7,682.0 695.9,678.5 692.6,674.3 C689.3,670.1 687.5,663.3 686.3,658.0 C685.1,652.7 684.8,646.8 685.4,642.6 C686.0,638.4 686.4,635.5 689.9,632.7 Z" stroke="#2a72c2" stroke-width="1.8"/><path d="M688.1,629.0 C687.3,632.1 683.9,641.1 683.6,647.1 C683.3,653.2 684.6,660.7 686.3,665.2 C687.9,669.8 692.3,672.8 693.5,674.3" stroke="#2a72c2" stroke-width="1.6"/><path d="M699.9,636.3 C703.3,638.1 715.1,641.4 720.7,647.1 C726.3,652.9 731.2,666.8 733.3,670.7" stroke="#2a72c2" stroke-width="1.4"/><path d="M706.2,647.1 L704.4,656.2" stroke="#2a72c2" stroke-width="1.4"/><path d="M713.4,654.4 L711.6,667.1" stroke="#2a72c2" stroke-width="1.4"/><path d="M720.7,661.6 L718.9,674.3" stroke="#2a72c2" stroke-width="1.4"/><path d="M720.7,681.5 C722.8,676.4 729.0,670.4 733.3,670.7 C737.7,671.0 743.9,678.2 746.9,683.3 C749.9,688.5 751.9,696.6 751.4,701.4 C751.0,706.3 748.0,710.5 744.2,712.3 C740.4,714.1 732.7,714.1 728.8,712.3 C724.9,710.5 722.0,706.6 720.7,701.4 C719.3,696.3 718.6,686.7 720.7,681.5 Z" stroke="#2a72c2" stroke-width="1.8"/><path d="M701.7,696.9 C703.5,693.9 707.6,690.1 710.7,688.8 C713.9,687.4 719.0,685.2 720.7,688.8 C722.3,692.4 721.6,705.1 720.7,710.5 C719.8,715.9 717.7,719.8 715.2,721.4 C712.8,722.9 708.8,722.0 706.2,719.5 C703.6,717.1 700.6,710.6 699.9,706.9 C699.1,703.1 699.9,699.9 701.7,696.9 Z" stroke="#2a72c2" stroke-width="1.8"/><path d="M718.0,719.5 C719.3,715.6 724.3,714.9 728.8,714.1 C733.3,713.4 741.3,712.6 745.1,715.0 C748.9,717.4 751.9,724.1 751.4,728.6 C751.0,733.1 746.2,739.2 742.4,742.2 C738.6,745.2 732.4,747.5 728.8,746.7 C725.2,745.9 722.5,742.2 720.7,737.6 C718.9,733.1 716.6,723.5 718.0,719.5 Z" stroke="#2a72c2" stroke-width="1.8"/><path d="M700.8,737.6 C703.6,734.5 710.1,735.5 717.1,736.7 C724.0,737.9 737.9,739.9 742.4,744.9 C746.9,749.9 749.9,762.1 744.2,766.6 C738.5,771.1 715.4,773.8 708.0,772.0 C700.6,770.2 701.1,761.5 699.9,755.7 C698.7,750.0 697.9,740.8 700.8,737.6 Z" stroke="#2a72c2" stroke-width="1.8"/><path d="M717.1,737.6 C717.4,740.7 718.7,750.5 718.9,755.7 C719.0,761.0 718.1,767.1 718.0,769.3" stroke="#2a72c2" stroke-width="1.5"/><path d="M760.5,706.0 C761.7,703.7 765.5,700.7 767.7,701.4 C770.0,702.2 770.6,703.0 774.1,710.5 C777.5,718.0 786.4,740.2 788.6,746.7 C790.7,753.2 789.2,750.9 786.7,749.4 C784.3,747.9 778.4,743.4 774.1,737.6 C769.7,731.9 762.8,720.3 760.5,715.0 C758.2,709.7 759.3,708.2 760.5,706.0 Z" stroke="#2a72c2" stroke-width="1.8"/><path d="M758.7,763.0 C758.7,759.1 763.1,749.1 765.0,747.6 C767.0,746.1 769.4,750.8 770.5,753.9 C771.5,757.1 772.3,763.7 771.4,766.6 C770.5,769.5 767.1,771.7 765.0,771.1 C762.9,770.5 758.7,766.9 758.7,763.0 Z" stroke="#2a72c2" stroke-width="1.8"/><path d="M753.3,769.3 C753.3,767.1 757.3,764.9 760.5,764.8 C763.7,764.6 770.5,766.0 772.3,768.4 C774.1,770.8 773.3,777.6 771.4,779.3 C769.4,780.9 763.5,780.0 760.5,778.4 C757.5,776.7 753.3,771.6 753.3,769.3 Z" stroke="#2a72c2" stroke-width="1.8"/><path d="M753.3,639.9 C754.3,637.0 757.8,634.3 760.5,633.6 C763.2,632.8 766.5,633.7 769.5,635.4 C772.6,637.0 776.8,639.8 778.6,643.5 C780.4,647.3 781.5,654.4 780.4,658.0 C779.4,661.6 775.6,664.6 772.3,665.2 C768.9,665.9 763.5,664.0 760.5,661.6 C757.5,659.2 755.4,654.4 754.2,650.8 C753.0,647.1 752.2,642.8 753.3,639.9 Z" stroke="#2a72c2" stroke-width="1.8"/><path d="M769.5,674.3 C770.8,671.9 773.5,668.6 776.8,668.9 C780.1,669.2 787.2,672.2 789.5,676.1 C791.7,680.0 791.4,688.3 790.4,692.4 C789.3,696.5 785.8,699.8 783.1,700.5 C780.4,701.3 776.3,699.8 774.1,696.9 C771.8,694.1 770.3,687.1 769.5,683.3 C768.8,679.6 768.3,676.7 769.5,674.3 Z" stroke="#2a72c2" stroke-width="1.8"/><path d="M758.7,654.4 C759.7,655.0 762.9,658.0 765.0,658.0 C767.1,658.0 770.3,655.0 771.4,654.4" stroke="#2a72c2" stroke-width="1.5"/><path d="M774.1,683.3 C775.1,684.0 778.6,687.0 780.4,687.0 C782.2,687.0 784.2,684.0 784.9,683.3" stroke="#2a72c2" stroke-width="1.5"/><path d="M685.4,724.1 C685.1,721.5 688.4,715.3 690.8,713.2 C693.2,711.1 698.2,710.3 699.9,711.4 C701.5,712.5 702.0,716.7 700.8,719.5 C699.6,722.4 695.2,727.8 692.6,728.6 C690.1,729.4 685.7,726.6 685.4,724.1 Z" stroke="#2a72c2" stroke-width="1.8"/><path d="M748.7,681.5 C749.6,679.4 754.2,678.5 756.9,679.7 C759.6,680.9 763.8,685.2 765.0,688.8 C766.2,692.4 765.2,699.6 764.1,701.4 C763.1,703.3 760.8,701.1 758.7,699.6 C756.6,698.1 753.1,695.4 751.4,692.4 C749.8,689.4 747.8,683.7 748.7,681.5 Z" fill="#2a72c2"/><circle cx="796.7" cy="708.7" r="2" fill="#2a72c2"/><circle cx="797.6" cy="719.5" r="2" fill="#2a72c2"/><circle cx="804.8" cy="729.5" r="3" fill="#2a72c2"/><circle cx="792.2" cy="731.3" r="2" fill="#2a72c2"/><circle cx="798.5" cy="737.6" r="2.5" fill="#2a72c2"/><circle cx="801.2" cy="744.9" r="3" fill="#2a72c2"/><circle cx="803.9" cy="753.0" r="2.5" fill="#2a72c2"/><circle cx="787.6" cy="761.2" r="3.5" fill="#2a72c2"/><circle cx="794.9" cy="766.6" r="3.5" fill="#2a72c2"/><circle cx="787.6" cy="773.8" r="3.5" fill="#2a72c2"/><circle cx="796.7" cy="775.7" r="3" fill="#2a72c2"/><circle cx="803.0" cy="781.1" r="3" fill="#2a72c2"/><circle cx="793.1" cy="784.7" r="3" fill="#2a72c2"/><circle cx="800.3" cy="790.1" r="3" fill="#2a72c2"/><circle cx="807.6" cy="772.0" r="2.5" fill="#2a72c2"/><circle cx="801.2" cy="797.4" r="2.5" fill="#2a72c2"/><path d="M1308.9,737.6 C1309.4,736.9 1311.8,732.3 1313.7,730.4 C1315.6,728.5 1325.1,720.9 1328.1,718.4 C1331.1,715.9 1342.6,704.3 1343.7,705.2 C1344.8,706.2 1339.0,723.7 1338.9,728.0 C1338.8,732.3 1342.6,744.8 1342.5,748.4 C1342.4,752.0 1337.7,760.1 1337.7,764.0 C1337.7,768.0 1342.5,784.5 1342.5,788.1 C1342.5,791.7 1337.6,796.5 1337.7,800.1 C1337.8,803.7 1343.7,821.1 1343.7,824.1 C1343.7,827.1 1337.6,827.7 1337.7,830.1 C1337.8,832.5 1346.5,847.5 1344.9,848.1 C1343.3,848.7 1325.4,838.5 1322.1,836.1 C1318.7,833.7 1312.4,825.3 1311.3,824.1" stroke="#2a72c2" stroke-width="1.8"/><path d="M1340.1,730.4 H1360.5" stroke="#2a72c2" stroke-width="1.5"/><path d="M1340.1,740.0 H1360.5" stroke="#2a72c2" stroke-width="1.5"/><path d="M1340.1,747.2 H1360.5" stroke="#2a72c2" stroke-width="1.5"/><path d="M1340.1,754.4 H1360.5" stroke="#2a72c2" stroke-width="1.5"/><path d="M1340.1,764.0 H1360.5" stroke="#2a72c2" stroke-width="1.5"/><path d="M1340.1,771.2 H1360.5" stroke="#2a72c2" stroke-width="1.5"/><path d="M1340.1,778.5 H1360.5" stroke="#2a72c2" stroke-width="1.5"/><path d="M1340.1,788.1 H1360.5" stroke="#2a72c2" stroke-width="1.5"/><path d="M1340.1,795.3 H1360.5" stroke="#2a72c2" stroke-width="1.5"/><path d="M1340.1,804.9 H1360.5" stroke="#2a72c2" stroke-width="1.5"/><path d="M1340.1,812.1 H1360.5" stroke="#2a72c2" stroke-width="1.5"/><path d="M1340.1,819.3 H1360.5" stroke="#2a72c2" stroke-width="1.5"/><path d="M1292.1,742.4 C1296.5,738.0 1311.1,734.0 1316.1,737.6 C1321.1,741.2 1320.5,755.6 1322.1,764.0 C1323.7,772.4 1326.7,779.1 1325.7,788.1 C1324.7,797.1 1321.7,813.1 1316.1,818.1 C1310.5,823.1 1297.1,823.1 1292.1,818.1 C1287.1,813.1 1286.5,797.1 1286.1,788.1 C1285.7,779.1 1288.7,771.6 1289.7,764.0 C1290.7,756.4 1287.7,746.8 1292.1,742.4 Z" stroke="#2a72c2" stroke-width="1.8"/><path d="M1298.1,752.0 C1300.7,749.2 1307.1,745.2 1310.1,747.2 C1313.1,749.2 1317.1,759.6 1316.1,764.0 C1315.1,768.4 1307.7,773.6 1304.1,773.6 C1300.5,773.6 1295.5,767.6 1294.5,764.0 C1293.5,760.4 1295.5,754.8 1298.1,752.0 Z" stroke="#2a72c2" stroke-width="1.6"/><path d="M1287.3,776.0 C1289.3,772.0 1298.9,769.0 1304.1,770.0 C1309.3,771.0 1317.5,778.1 1318.5,782.1 C1319.5,786.1 1314.5,792.1 1310.1,794.1 C1305.7,796.1 1295.9,797.1 1292.1,794.1 C1288.3,791.1 1285.3,780.1 1287.3,776.0 Z" stroke="#2a72c2" stroke-width="1.6"/><path d="M1292.1,794.1 C1295.5,792.1 1305.1,795.7 1310.1,797.7 C1315.1,799.7 1323.1,803.3 1322.1,806.1 C1321.1,808.9 1309.5,813.9 1304.1,814.5 C1298.7,815.1 1291.7,813.1 1289.7,809.7 C1287.7,806.3 1288.7,796.1 1292.1,794.1 Z" stroke="#2a72c2" stroke-width="1.6"/><path d="M1298.1,742.4 C1299.1,745.0 1303.5,752.4 1304.1,758.0 C1304.7,763.6 1300.7,769.0 1301.7,776.0 C1302.7,783.1 1308.7,796.1 1310.1,800.1" stroke="#2a72c2" stroke-width="1.5"/><path d="M1322.1,752.0 L1330.5,752.0" stroke="#2a72c2" stroke-width="1.5"/><path d="M1316.1,785.7 L1331.7,780.9" stroke="#2a72c2" stroke-width="1.5"/><path d="M1316.1,796.5 L1331.7,796.5" stroke="#2a72c2" stroke-width="1.5"/><path d="M1316.1,806.1 L1329.3,815.7" stroke="#2a72c2" stroke-width="1.5"/><path d="M1298.1,756.8 C1300.7,753.6 1307.5,750.4 1310.1,752.0 C1312.7,753.6 1314.7,762.4 1313.7,766.4 C1312.7,770.4 1307.3,775.2 1304.1,776.0 C1300.9,776.9 1295.5,774.4 1294.5,771.2 C1293.5,768.0 1295.5,760.0 1298.1,756.8 Z" fill="#2a72c2" opacity="0.7"/><path d="M1170.8,788.1 C1174.0,787.7 1183.8,786.3 1190.0,785.7 C1196.2,785.1 1203.0,783.7 1208.0,784.5 C1213.0,785.3 1214.6,789.1 1220.0,790.5 C1225.4,791.9 1237.0,792.5 1240.4,792.9" stroke="#2a72c2" stroke-width="1.7"/><path d="M1199.6,814.5 C1203.0,813.7 1211.6,810.9 1220.0,809.7 C1228.4,808.5 1243.0,806.9 1250.0,807.3 C1257.1,807.7 1257.9,811.7 1262.1,812.1 C1266.3,812.5 1273.1,810.1 1275.3,809.7" stroke="#2a72c2" stroke-width="1.7"/><path d="M1208.0,749.6 L1226.0,744.8" stroke="#2a72c2" stroke-width="1.7"/><path d="M1218.8,752.0 L1227.2,750.8" stroke="#2a72c2" stroke-width="1.7"/><path d="M1247.6,759.2 C1250.0,759.0 1257.7,757.8 1262.1,758.0 C1266.5,758.2 1272.1,760.0 1274.1,760.4" stroke="#2a72c2" stroke-width="1.7"/><path d="M1247.6,784.5 C1250.0,785.1 1256.7,785.9 1262.1,788.1 C1267.5,790.3 1277.1,796.1 1280.1,797.7" stroke="#2a72c2" stroke-width="1.7"/><path d="M1226.0,762.8 C1226.4,762.0 1231.4,761.8 1234.4,759.2 C1237.4,756.6 1242.6,747.2 1244.0,747.2 C1245.4,747.2 1244.8,756.4 1242.8,759.2 C1240.8,762.0 1234.8,763.4 1232.0,764.0 C1229.2,764.6 1225.6,763.6 1226.0,762.8 Z" stroke="#2a72c2" stroke-width="1.7"/><path d="M1234.4,821.7 C1235.7,821.5 1241.6,818.6 1244.0,820.5 C1246.4,822.4 1252.1,833.0 1252.4,836.1 C1252.8,839.1 1247.9,844.1 1246.4,843.3 C1245.0,842.5 1243.2,833.0 1241.6,830.1 C1240.0,827.2 1235.4,822.8 1234.4,821.7" stroke="#2a72c2" stroke-width="1.7"/><path d="M1278.9,734.0 C1279.7,732.0 1289.3,728.0 1292.1,728.0 C1294.9,728.0 1296.5,732.0 1295.7,734.0 C1294.9,736.0 1290.1,740.0 1287.3,740.0 C1284.5,740.0 1278.1,736.0 1278.9,734.0 Z" stroke="#2a72c2" stroke-width="1.7"/><path d="M1289.7,826.5 C1288.7,828.1 1284.1,832.1 1283.7,836.1 C1283.3,840.1 1285.3,847.9 1287.3,850.5 C1289.3,853.1 1294.9,852.5 1295.7,851.7 C1296.5,850.9 1292.7,846.7 1292.1,845.7" stroke="#2a72c2" stroke-width="1.7"/><path d="M1313.7,824.1 C1312.5,826.1 1306.5,830.9 1306.5,836.1 C1306.5,841.3 1310.7,852.5 1313.7,855.3 C1316.7,858.1 1323.1,854.1 1324.5,852.9 C1325.9,851.7 1322.5,848.9 1322.1,848.1" stroke="#2a72c2" stroke-width="1.7"/><path d="M1272.9,701.6 C1274.1,702.4 1277.9,704.0 1280.1,706.4 C1282.3,708.8 1285.1,714.4 1286.1,716.0" stroke="#2a72c2" stroke-width="1.6"/><path d="M1272.9,722.0 C1274.1,722.4 1277.9,723.4 1280.1,724.4 C1282.3,725.4 1285.1,727.4 1286.1,728.0" stroke="#2a72c2" stroke-width="1.6"/><path d="M1299.3,686.0 L1301.7,695.6" stroke="#2a72c2" stroke-width="1.6"/><path d="M1236.8,846.9 C1237.8,847.5 1240.8,849.9 1242.8,850.5 C1244.8,851.1 1247.8,850.5 1248.8,850.5" stroke="#2a72c2" stroke-width="1.6"/><path d="M1238.0,855.3 C1239.0,855.5 1242.2,856.5 1244.0,856.5 C1245.8,856.5 1248.0,855.5 1248.8,855.3" stroke="#2a72c2" stroke-width="1.6"/><path d="M1277.5,1034.3 C1278.3,1030.9 1279.4,1022.3 1284.4,1019.4 C1289.3,1016.6 1301.3,1016.6 1307.2,1017.2 C1313.1,1017.7 1317.9,1020.4 1319.8,1022.9 C1321.7,1025.3 1321.7,1029.5 1318.7,1032.0 C1315.6,1034.5 1306.5,1036.2 1301.5,1037.7 C1296.5,1039.3 1292.5,1040.8 1288.9,1041.2 C1285.3,1041.5 1281.7,1041.2 1279.8,1040.0 C1277.9,1038.9 1276.7,1037.7 1277.5,1034.3 Z" stroke="#2a72c2" stroke-width="1.8"/><path d="M1282.1,1037.7 C1284.7,1035.6 1292.0,1027.3 1298.1,1025.2 C1304.2,1023.1 1315.2,1025.2 1318.7,1025.2" stroke="#2a72c2" stroke-width="1.4"/><path d="M1283.8,1034.3 C1286.2,1032.6 1292.3,1025.1 1298.1,1023.8 C1303.9,1022.5 1315.2,1026.1 1318.7,1026.5" stroke="#2a72c2" stroke-width="1.4"/><path d="M1285.5,1030.9 C1287.6,1029.5 1292.5,1022.9 1298.1,1022.4 C1303.6,1021.9 1315.2,1027.0 1318.7,1027.9" stroke="#2a72c2" stroke-width="1.4"/><path d="M1287.2,1027.4 C1289.0,1026.4 1292.8,1020.7 1298.1,1021.0 C1303.3,1021.3 1315.2,1027.9 1318.7,1029.3" stroke="#2a72c2" stroke-width="1.4"/><path d="M1288.9,1024.0 C1290.4,1023.3 1293.1,1018.6 1298.1,1019.7 C1303.0,1020.8 1315.2,1028.8 1318.7,1030.6" stroke="#2a72c2" stroke-width="1.4"/><path d="M1288.9,1041.2 C1289.3,1042.3 1289.3,1046.7 1291.2,1048.0 C1293.1,1049.4 1296.7,1049.6 1300.4,1049.2 C1304.0,1048.8 1310.1,1047.3 1312.9,1045.7 C1315.8,1044.2 1316.8,1041.0 1317.5,1040.0" stroke="#2a72c2" stroke-width="1.8"/><path d="M1317.5,1034.3 L1351.8,1030.9" stroke="#2a72c2" stroke-width="1.7"/><path d="M1320.9,1040.0 L1356.4,1042.3" stroke="#2a72c2" stroke-width="1.7"/><path d="M1322.1,1048.0 L1356.4,1046.9" stroke="#2a72c2" stroke-width="1.7"/><path d="M1312.9,1051.5 C1315.8,1055.3 1323.4,1072.2 1330.1,1074.3 C1336.8,1076.4 1348.8,1066.5 1353.0,1064.0 C1357.2,1061.6 1354.9,1060.2 1355.2,1059.5" stroke="#2a72c2" stroke-width="1.8"/><path d="M1322.1,1064.0 C1324.4,1064.8 1331.6,1069.4 1335.8,1068.6 C1340.0,1067.8 1345.3,1061.0 1347.2,1059.5" stroke="#2a72c2" stroke-width="1.6"/><circle cx="1324.4" cy="1052.6" r="1.6" fill="#e5304f"/><circle cx="1331.2" cy="1054.9" r="1.6" fill="#e5304f"/><path d="M1192.9,1099.5 C1192.5,1095.5 1195.5,1086.0 1199.7,1082.3 C1203.9,1078.7 1213.1,1077.4 1218.0,1077.8 C1223.0,1078.1 1226.0,1080.8 1229.5,1084.6 C1232.9,1088.4 1237.8,1096.1 1238.6,1100.6 C1239.4,1105.2 1237.5,1109.0 1234.0,1112.1 C1230.6,1115.1 1222.4,1118.5 1218.0,1118.9 C1213.6,1119.3 1210.4,1116.4 1207.7,1114.4 C1205.1,1112.3 1204.5,1108.8 1202.0,1106.3 C1199.5,1103.9 1193.3,1103.5 1192.9,1099.5 Z" stroke="#2a72c2" stroke-width="1.8"/><path d="M1194.0,1102.9 C1195.7,1100.2 1200.1,1090.7 1204.3,1086.9 C1208.5,1083.1 1216.7,1081.2 1219.2,1080.0" stroke="#2a72c2" stroke-width="1.5"/><path d="M1196.3,1098.3 C1197.6,1096.6 1200.5,1090.8 1204.3,1088.1 C1208.1,1085.3 1216.7,1082.8 1219.2,1081.8" stroke="#2a72c2" stroke-width="1.5"/><path d="M1198.6,1093.8 C1199.5,1093.0 1200.9,1090.9 1204.3,1089.2 C1207.7,1087.5 1216.7,1084.4 1219.2,1083.5" stroke="#2a72c2" stroke-width="1.5"/><path d="M1200.9,1089.2 C1201.4,1089.4 1201.3,1091.0 1204.3,1090.3 C1207.4,1089.7 1216.7,1086.0 1219.2,1085.2" stroke="#2a72c2" stroke-width="1.5"/><path d="M1222.6,1102.9 m-4.5,0 a4.5,4.5 0 1,0 9,0 a4.5,4.5 0 1,0 -9,0" stroke="#2a72c2" stroke-width="1.6"/><path d="M1229.5,1097.2 m-4,0 a4,4 0 1,0 8,0 a4,4 0 1,0 -8,0" stroke="#2a72c2" stroke-width="1.6"/><path d="M1250.0,1104.1 L1290.1,1101.8" stroke="#2a72c2" stroke-width="1.7"/><path d="M1266.1,1109.8 C1272.9,1110.2 1292.0,1111.1 1307.2,1112.1 C1322.5,1113.0 1349.1,1114.9 1357.5,1115.5" stroke="#2a72c2" stroke-width="1.7"/><path d="M1227.2,1125.8 C1236.7,1126.0 1262.6,1126.5 1284.4,1126.9 C1306.1,1127.3 1345.3,1127.9 1357.5,1128.1" stroke="#2a72c2" stroke-width="1.7"/><path d="M1229.5,1137.2 C1231.9,1138.7 1236.1,1144.7 1244.3,1146.4 C1252.5,1148.1 1272.9,1147.3 1278.6,1147.5" stroke="#2a72c2" stroke-width="1.7"/><path d="M1238.6,1116.6 C1240.5,1117.6 1248.5,1119.9 1250.0,1122.4 C1251.6,1124.8 1248.1,1130.0 1247.8,1131.5" stroke="#2a72c2" stroke-width="1.7"/><path d="M1284.4,1100.6 C1287.2,1098.2 1297.7,1090.0 1301.5,1085.8 C1305.3,1081.6 1305.3,1078.3 1307.2,1075.5 C1309.1,1072.6 1311.2,1069.0 1312.9,1068.6 C1314.7,1068.2 1316.9,1070.9 1317.5,1073.2 C1318.1,1075.5 1317.7,1079.3 1316.4,1082.3 C1315.0,1085.4 1311.4,1088.1 1309.5,1091.5 C1307.6,1094.9 1305.7,1101.0 1304.9,1102.9" stroke="#2a72c2" stroke-width="1.8"/><path d="M1291.2,1113.2 C1292.5,1110.3 1297.9,1108.4 1301.5,1108.6 C1305.1,1108.8 1311.0,1111.5 1312.9,1114.4 C1314.8,1117.2 1314.8,1122.9 1312.9,1125.8 C1311.0,1128.6 1304.7,1131.5 1301.5,1131.5 C1298.3,1131.5 1295.2,1128.8 1293.5,1125.8 C1291.8,1122.7 1289.9,1116.1 1291.2,1113.2 Z" stroke="#2a72c2" stroke-width="1.8"/><path d="M1319.8,1145.2 C1323.0,1142.9 1335.8,1143.9 1339.2,1146.4 C1342.7,1148.8 1343.6,1157.8 1340.4,1160.1 C1337.1,1162.4 1323.2,1162.6 1319.8,1160.1 C1316.4,1157.6 1316.6,1147.5 1319.8,1145.2 Z" stroke="#2a72c2" stroke-width="1.8"/><path d="M1322.1,1116.6 L1337.0,1116.6" stroke="#2a72c2" stroke-width="1.6"/><path d="M1330.1,1131.5 L1339.2,1132.6" stroke="#2a72c2" stroke-width="1.6"/><path d="M920.3,1585.2 C921.2,1583.1 924.0,1572.7 927.2,1569.7 C930.4,1566.8 939.0,1564.5 944.3,1562.9 C949.6,1561.3 960.9,1558.0 966.6,1557.7 C972.3,1557.5 982.4,1560.7 987.2,1561.2 C992.0,1561.6 999.2,1559.8 1002.6,1561.2 C1006.1,1562.5 1011.1,1568.9 1012.9,1571.5 C1014.7,1574.0 1015.9,1578.9 1016.3,1580.0" stroke="#2a72c2" stroke-width="1.7"/><path d="M920.3,1585.2 C920.0,1588.0 918.3,1597.2 918.6,1602.3 C918.9,1607.5 922.0,1611.2 922.0,1616.1 C922.0,1620.9 917.7,1625.2 918.6,1631.5 C919.4,1637.8 922.9,1648.6 927.2,1653.8 C931.4,1658.9 937.2,1660.4 944.3,1662.4 C951.5,1664.4 962.9,1665.8 970.0,1665.8 C977.2,1665.8 984.3,1662.9 987.2,1662.4" stroke="#2a72c2" stroke-width="1.7"/><path d="M927.2,1571.5 C928.4,1572.0 933.4,1572.6 934.9,1574.9 C936.3,1577.2 935.6,1583.5 935.7,1585.2" stroke="#2a72c2" stroke-width="1.5"/><path d="M944.3,1564.6 C945.6,1565.2 950.6,1565.7 952.0,1568.0 C953.5,1570.3 952.7,1576.6 952.9,1578.3" stroke="#2a72c2" stroke-width="1.5"/><path d="M961.5,1561.2 C962.5,1561.7 966.6,1562.3 967.5,1564.6 C968.3,1566.9 966.7,1573.2 966.6,1574.9" stroke="#2a72c2" stroke-width="1.5"/><path d="M982.0,1562.9 C983.0,1563.3 987.2,1563.5 988.0,1565.5 C988.9,1567.5 987.3,1573.3 987.2,1574.9" stroke="#2a72c2" stroke-width="1.5"/><path d="M923.7,1600.6 C925.4,1600.0 931.7,1597.2 934.0,1597.2 C936.3,1597.2 936.9,1600.0 937.4,1600.6" stroke="#2a72c2" stroke-width="1.5"/><path d="M922.0,1619.5 C923.7,1619.2 930.0,1617.2 932.3,1617.8 C934.6,1618.3 935.2,1622.1 935.7,1622.9" stroke="#2a72c2" stroke-width="1.5"/><path d="M927.2,1640.1 C928.9,1639.5 935.2,1636.6 937.4,1636.6 C939.7,1636.6 940.3,1639.5 940.9,1640.1" stroke="#2a72c2" stroke-width="1.5"/><path d="M940.9,1655.5 C942.0,1653.9 946.6,1648.1 947.7,1646.1 C948.9,1644.1 947.7,1643.9 947.7,1643.5" stroke="#2a72c2" stroke-width="1.5"/><path d="M961.5,1660.7 C962.3,1658.9 966.0,1652.6 966.6,1650.4 C967.2,1648.1 965.2,1647.5 964.9,1646.9" stroke="#2a72c2" stroke-width="1.5"/><path d="M939.2,1592.0 C941.2,1592.3 950.3,1592.3 951.2,1593.8 C952.0,1595.2 943.7,1598.6 944.3,1600.6 C944.9,1602.6 954.3,1603.8 954.6,1605.8 C954.9,1607.8 947.4,1611.5 946.0,1612.6" stroke="#2a72c2" stroke-width="1.5"/><path d="M949.5,1624.6 C950.9,1625.8 958.0,1629.5 958.0,1631.5 C958.0,1633.5 949.2,1634.6 949.5,1636.6 C949.7,1638.6 959.5,1641.2 959.7,1643.5 C960.0,1645.8 952.6,1649.2 951.2,1650.4" stroke="#2a72c2" stroke-width="1.5"/><path d="M1012.9,1585.2 C1016.3,1587.5 1028.6,1592.6 1033.5,1598.9 C1038.4,1605.2 1042.1,1614.3 1042.1,1622.9 C1042.1,1631.5 1038.4,1644.4 1033.5,1650.4 C1028.6,1656.4 1020.6,1656.9 1012.9,1658.9 C1005.2,1660.9 991.5,1661.8 987.2,1662.4" stroke="#2a72c2" stroke-width="1.8"/><path d="M972.6,1609.2 C972.6,1607.5 980.0,1604.0 983.8,1604.0 C987.5,1604.0 994.9,1607.5 994.9,1609.2 C994.9,1610.9 987.5,1614.3 983.8,1614.3 C980.0,1614.3 972.6,1610.9 972.6,1609.2 Z" stroke="#2a72c2" stroke-width="1.7"/><path d="M969.2,1638.4 C969.2,1636.6 976.6,1633.2 980.3,1633.2 C984.0,1633.2 991.5,1636.6 991.5,1638.4 C991.5,1640.1 984.0,1643.5 980.3,1643.5 C976.6,1643.5 969.2,1640.1 969.2,1638.4 Z" stroke="#2a72c2" stroke-width="1.7"/><circle cx="987.2" cy="1608.9" r="3.2" fill="#2a72c2"/><circle cx="985.5" cy="1638.0" r="3.2" fill="#2a72c2"/><path d="M1021.5,1605.8 C1018.9,1605.5 1009.8,1603.2 1006.1,1604.0 C1002.3,1604.9 999.2,1608.9 999.2,1610.9 C999.2,1612.9 1002.3,1615.8 1006.1,1616.1 C1009.8,1616.3 1018.9,1613.2 1021.5,1612.6" stroke="#2a72c2" stroke-width="1.7"/><path d="M1023.2,1616.1 C1022.9,1618.9 1024.4,1628.6 1021.5,1633.2 C1018.6,1637.8 1008.6,1641.8 1006.1,1643.5" stroke="#2a72c2" stroke-width="1.7"/><path d="M976.9,1520.0 C978.0,1522.9 978.9,1532.0 983.8,1537.2 C988.6,1542.3 999.8,1547.2 1006.1,1550.9 C1012.3,1554.6 1018.9,1558.0 1021.5,1559.5" stroke="#2a72c2" stroke-width="1.7"/><path d="M999.2,1520.0 C1001.5,1523.4 1008.3,1534.9 1012.9,1540.6 C1017.5,1546.3 1024.4,1552.0 1026.6,1554.3" stroke="#2a72c2" stroke-width="1.7"/><path d="M1021.5,1559.5 C1024.6,1557.2 1034.1,1550.6 1040.4,1545.7 C1046.6,1540.9 1056.9,1534.6 1059.2,1530.3 C1061.5,1526.0 1054.9,1521.7 1054.1,1520.0" stroke="#2a72c2" stroke-width="1.7"/><path d="M1016.3,1557.7 C1018.6,1556.0 1026.6,1554.9 1030.1,1556.0 C1033.5,1557.2 1037.5,1562.3 1036.9,1564.6 C1036.4,1566.9 1030.1,1569.5 1026.6,1569.7 C1023.2,1570.0 1018.1,1568.3 1016.3,1566.3 C1014.6,1564.3 1014.1,1559.5 1016.3,1557.7 Z" stroke="#2a72c2" stroke-width="1.7"/><path d="M1036.9,1564.6 C1042.9,1563.7 1055.5,1562.6 1073.0,1559.5 C1090.4,1556.3 1127.3,1547.4 1141.6,1545.7 C1155.9,1544.0 1154.7,1544.9 1158.7,1549.2 C1162.7,1553.4 1167.0,1567.2 1165.6,1571.5 C1164.1,1575.7 1158.4,1574.0 1150.1,1574.9 C1141.8,1575.7 1127.3,1572.9 1115.8,1576.6 C1104.4,1580.3 1087.2,1593.8 1081.5,1597.2" stroke="#2a72c2" stroke-width="1.7"/><path d="M1050.7,1585.2 C1051.2,1578.6 1050.7,1578.9 1055.8,1576.6 C1060.9,1574.3 1070.1,1570.9 1081.5,1571.5 C1093.0,1572.0 1113.5,1574.9 1124.4,1580.0 C1135.3,1585.2 1142.7,1595.2 1146.7,1602.3 C1150.7,1609.5 1150.7,1617.2 1148.4,1622.9 C1146.1,1628.6 1141.3,1634.1 1133.0,1636.6 C1124.7,1639.2 1110.1,1639.5 1098.7,1638.4 C1087.2,1637.2 1072.1,1633.5 1064.4,1629.8 C1056.7,1626.1 1054.7,1623.5 1052.4,1616.1 C1050.1,1608.6 1050.1,1591.8 1050.7,1585.2 Z" stroke="#2a72c2" stroke-width="1.7"/><path d="M1073.0,1562.9 C1074.4,1567.7 1077.2,1585.5 1081.5,1592.0 C1085.8,1598.6 1093.0,1602.3 1098.7,1602.3 C1104.4,1602.3 1113.0,1596.3 1115.8,1592.0 C1118.7,1587.8 1115.8,1579.2 1115.8,1576.6" stroke="#2a72c2" stroke-width="1.7"/><path d="M1064.4,1616.1 C1065.8,1611.8 1074.4,1609.8 1081.5,1610.9 C1088.7,1612.1 1101.5,1619.5 1107.3,1622.9 C1113.0,1626.3 1115.8,1628.6 1115.8,1631.5 C1115.8,1634.4 1114.4,1639.2 1107.3,1640.1 C1100.1,1640.9 1080.1,1640.6 1073.0,1636.6 C1065.8,1632.6 1062.9,1620.3 1064.4,1616.1 Z" stroke="#2a72c2" stroke-width="1.7"/><path d="M1067.8,1631.5 C1068.7,1634.6 1062.1,1643.2 1073.0,1650.4 C1083.8,1657.5 1118.7,1669.8 1133.0,1674.4 C1147.3,1678.9 1152.7,1679.8 1158.7,1677.8 C1164.7,1675.8 1169.0,1666.9 1169.0,1662.4 C1169.0,1657.8 1164.7,1652.4 1158.7,1650.4 C1152.7,1648.4 1137.3,1650.4 1133.0,1650.4" stroke="#2a72c2" stroke-width="1.7"/><path d="M1162.1,1588.6 C1165.9,1590.6 1176.5,1595.5 1184.4,1600.6 C1192.4,1605.8 1205.7,1616.3 1210.0,1619.5" stroke="#2a72c2" stroke-width="1.7"/><path d="M1210.0,1624.6 C1205.7,1625.8 1194.4,1628.3 1184.4,1631.5 C1174.5,1634.6 1155.9,1641.5 1150.1,1643.5" stroke="#2a72c2" stroke-width="1.7"/><path d="M1026.6,1658.9 L1033.5,1674.4" stroke="#2a72c2" stroke-width="1.6"/><path d="M1050.7,1653.8 C1049.5,1656.1 1046.1,1663.5 1043.8,1667.5 C1041.5,1671.5 1038.1,1676.1 1036.9,1677.8" stroke="#2a72c2" stroke-width="1.6"/><path d="M1074.7,1660.7 C1073.0,1662.4 1068.9,1668.4 1064.4,1670.9 C1059.8,1673.5 1050.1,1675.2 1047.2,1676.1" stroke="#2a72c2" stroke-width="1.6"/><path d="M1143.3,1653.8 C1145.0,1651.5 1154.4,1650.6 1157.0,1652.1 C1159.6,1653.5 1160.4,1660.1 1158.7,1662.4 C1157.0,1664.7 1149.3,1667.2 1146.7,1665.8 C1144.1,1664.4 1141.6,1656.1 1143.3,1653.8 Z" fill="#2a72c2"/><path d="M974.5,908.9 C976.0,903.7 979.9,890.2 983.3,887.5 C986.7,884.7 992.0,888.0 995.0,892.4 C997.9,896.7 1000.1,906.9 1000.8,913.7 C1001.4,920.5 1000.5,928.8 998.8,933.2 C997.2,937.5 994.3,940.1 991.1,940.0 C987.8,939.8 982.2,935.8 979.4,932.2 C976.7,928.6 975.4,922.5 974.5,918.6 C973.7,914.7 973.1,914.1 974.5,908.9 Z" stroke="#e02a7e" stroke-width="1.7"/><path d="M981.4,899.2 C982.5,897.2 985.9,896.7 987.2,899.2 C988.5,901.6 989.1,909.5 989.1,913.7 C989.1,917.9 988.2,922.6 987.2,924.4 C986.2,926.2 984.4,926.7 983.3,924.4 C982.2,922.2 980.7,915.0 980.4,910.8 C980.1,906.6 980.2,901.1 981.4,899.2 Z" stroke="#e02a7e" stroke-width="1.7"/><path d="M996.9,893.3 C998.5,892.7 1002.9,889.8 1006.6,889.4 C1010.3,889.1 1016.5,889.0 1019.3,891.4 C1022.0,893.8 1022.5,901.9 1023.1,904.0" stroke="#e02a7e" stroke-width="1.7"/><path d="M1022.2,924.4 C1021.7,926.4 1021.8,933.8 1019.3,936.1 C1016.7,938.4 1010.2,938.0 1006.6,938.0 C1003.1,938.0 999.3,936.4 997.9,936.1" stroke="#e02a7e" stroke-width="1.7"/><path d="M1023.1,904.0 L1050.3,900.1 L1052.3,926.4 L1022.2,924.4" stroke="#e02a7e" stroke-width="1.7"/><path d="M938.6,951.6 C940.0,947.4 941.8,947.1 945.4,946.8 C949.0,946.4 957.2,945.5 960.0,949.7 C962.7,953.9 961.9,964.8 961.9,972.0 C961.9,979.3 962.6,989.0 960.0,993.4 C957.4,997.8 949.9,998.3 946.4,998.3 C942.8,998.3 940.2,997.8 938.6,993.4 C937.0,989.0 936.6,979.0 936.6,972.0 C936.6,965.1 937.1,955.8 938.6,951.6 Z" stroke="#e02a7e" stroke-width="1.7"/><path d="M942.5,952.6 C942.8,955.8 944.1,965.1 944.4,972.0 C944.7,979.0 944.4,990.7 944.4,994.4" stroke="#e02a7e" stroke-width="1.5"/><path d="M948.3,950.7 C948.6,954.2 950.3,964.4 950.3,972.0 C950.3,979.7 948.6,992.3 948.3,996.3" stroke="#e02a7e" stroke-width="1.5"/><path d="M962.9,968.2 L994.0,967.2 L995.0,979.8 L962.9,976.9" stroke="#e02a7e" stroke-width="1.7"/><path d="M902.6,969.1 C903.0,967.7 908.6,965.6 911.4,965.2 C914.1,964.9 917.7,965.9 919.2,967.2 C920.6,968.5 921.7,971.9 920.1,973.0 C918.5,974.1 912.4,974.6 909.4,974.0 C906.5,973.3 902.3,970.6 902.6,969.1 Z" stroke="#e02a7e" stroke-width="1.7"/><path d="M919.2,971.1 L938.6,972.0" stroke="#e02a7e" stroke-width="2.2"/><path d="M927.9,958.4 C928.1,959.4 927.6,963.5 928.9,964.3 C930.2,965.1 934.5,963.5 935.7,963.3" stroke="#e02a7e" stroke-width="1.7"/><path d="M927.9,981.8 C928.4,982.6 929.5,986.1 930.8,986.6 C932.1,987.1 934.9,985.0 935.7,984.7" stroke="#e02a7e" stroke-width="1.7"/><path d="M1021.2,959.4 C1023.5,954.7 1032.5,944.7 1035.8,943.9 C1039.0,943.0 1041.0,951.0 1040.6,954.5 C1040.3,958.1 1034.5,962.0 1033.8,965.2 C1033.2,968.5 1038.0,971.9 1036.7,974.0 C1035.4,976.1 1028.5,978.2 1026.1,977.9 C1023.6,977.5 1023.0,975.1 1022.2,972.0 C1021.4,969.0 1018.9,964.1 1021.2,959.4 Z" stroke="#e02a7e" stroke-width="1.7"/><path d="M1024.1,967.2 C1025.2,967.7 1029.3,969.1 1030.9,970.1 C1032.5,971.1 1033.3,972.5 1033.8,973.0" stroke="#e02a7e" stroke-width="1.5"/><path d="M845.0,1213.3 C845.7,1206.9 845.8,1206.3 849.7,1204.7 C853.6,1203.0 862.4,1203.9 868.3,1203.3 C874.2,1202.8 881.1,1200.2 885.0,1201.3 C888.9,1202.4 890.0,1204.1 891.7,1210.0 C893.3,1215.9 894.1,1226.7 895.0,1236.7 C895.9,1246.7 897.0,1260.0 897.0,1270.0 C897.0,1280.0 897.6,1290.6 895.0,1296.7 C892.4,1302.8 887.2,1304.4 881.7,1306.7 C876.1,1308.9 866.3,1310.6 861.7,1310.0 C857.0,1309.4 855.7,1308.9 853.7,1303.3 C851.7,1297.8 851.0,1286.7 849.7,1276.7 C848.3,1266.7 846.4,1253.9 845.7,1243.3 C844.9,1232.8 844.3,1219.8 845.0,1213.3 Z" stroke="#2a72c2" stroke-width="1.8"/><path d="M869.7,1203.3 C871.3,1197.3 878.0,1199.0 881.7,1200.7 C885.3,1202.3 889.4,1205.1 891.7,1213.3 C893.9,1221.6 894.2,1238.3 895.0,1250.0 C895.8,1261.7 896.9,1275.0 896.3,1283.3 C895.8,1291.7 894.6,1296.4 891.7,1300.0 C888.8,1303.6 881.8,1308.6 879.0,1304.7 C876.2,1300.8 876.2,1288.0 875.0,1276.7 C873.8,1265.3 872.6,1248.9 871.7,1236.7 C870.8,1224.4 868.0,1209.3 869.7,1203.3 Z" stroke="#2a72c2" stroke-width="1.7"/><path d="M873.7,1210.0 L887.0,1214.0" stroke="#2a72c2" stroke-width="1.4"/><path d="M874.2,1218.0 L887.5,1222.0" stroke="#2a72c2" stroke-width="1.4"/><path d="M874.7,1226.0 L888.1,1230.0" stroke="#2a72c2" stroke-width="1.4"/><path d="M875.3,1234.0 L888.6,1238.0" stroke="#2a72c2" stroke-width="1.4"/><path d="M875.8,1242.0 L889.1,1246.0" stroke="#2a72c2" stroke-width="1.4"/><path d="M876.3,1250.0 L889.7,1254.0" stroke="#2a72c2" stroke-width="1.4"/><path d="M876.9,1258.0 L890.2,1262.0" stroke="#2a72c2" stroke-width="1.4"/><path d="M877.4,1266.0 L890.7,1270.0" stroke="#2a72c2" stroke-width="1.4"/><path d="M877.9,1274.0 L891.3,1278.0" stroke="#2a72c2" stroke-width="1.4"/><path d="M878.5,1282.0 L891.8,1286.0" stroke="#2a72c2" stroke-width="1.4"/><path d="M879.0,1290.0 L892.3,1294.0" stroke="#2a72c2" stroke-width="1.4"/><path d="M868.3,1193.3 C869.4,1192.8 872.8,1189.4 875.0,1190.0 C877.2,1190.6 880.6,1195.6 881.7,1196.7" stroke="#2a72c2" stroke-width="1.7"/><path d="M878.3,1310.0 C878.9,1311.7 880.0,1318.9 881.7,1320.0 C883.3,1321.1 887.2,1318.9 888.3,1316.7 C889.4,1314.4 888.3,1308.3 888.3,1306.7" stroke="#2a72c2" stroke-width="1.7"/><path d="M861.7,1213.3 C861.1,1215.0 858.1,1219.4 858.3,1223.3 C858.6,1227.2 863.0,1232.2 863.0,1236.7 C863.0,1241.1 858.6,1245.6 858.3,1250.0 C858.1,1254.4 861.7,1258.9 861.7,1263.3 C861.7,1267.8 857.8,1272.2 858.3,1276.7 C858.9,1281.1 863.3,1286.7 865.0,1290.0 C866.7,1293.3 867.8,1295.6 868.3,1296.7" stroke="#2a72c2" stroke-width="1.6"/><path d="M861.7,1283.3 C861.7,1281.1 866.1,1279.4 868.3,1280.0 C870.6,1280.6 875.0,1284.4 875.0,1286.7 C875.0,1288.9 870.6,1293.9 868.3,1293.3 C866.1,1292.8 861.7,1285.6 861.7,1283.3 Z" stroke="#2a72c2" stroke-width="1.6"/><path d="M835.0,1253.3 L840.3,1253.3 L841.7,1278.0 L835.7,1278.0 Z" stroke="#2a72c2" stroke-width="1.7"/><path d="M841.7,1257.3 L845.7,1256.7 L846.3,1273.3 L841.7,1274.0" stroke="#2a72c2" stroke-width="1.7"/><path d="M823.0,1246.7 L840.3,1246.7" stroke="#2a72c2" stroke-width="1.4"/><path d="M827.0,1240.7 L835.0,1252.7" stroke="#2a72c2" stroke-width="1.4"/><path d="M835.0,1240.7 L826.3,1252.7" stroke="#2a72c2" stroke-width="1.4"/><path d="M831.0,1238.0 L831.0,1255.3" stroke="#2a72c2" stroke-width="1.4"/><path d="M425.2,649.9 C428.2,643.8 433.9,641.5 438.9,640.7 C443.8,640.0 451.8,639.2 454.9,645.3 C457.9,651.4 457.2,665.1 457.2,677.3 C457.2,689.5 458.7,710.9 454.9,718.5 C451.1,726.1 439.3,724.2 434.3,723.1 C429.4,721.9 427.4,719.2 425.2,711.6 C422.9,704.0 420.6,687.6 420.6,677.3 C420.6,667.0 422.1,656.0 425.2,649.9 Z" stroke="#2a72c2" stroke-width="1.7"/><path d="M429.7,654.4 C432.8,649.1 442.5,646.1 445.7,649.9 C449.0,653.7 448.8,667.4 449.2,677.3 C449.6,687.2 450.9,703.6 448.0,709.3 C445.2,715.0 435.4,716.2 432.0,711.6 C428.6,707.0 427.8,691.4 427.4,681.9 C427.1,672.4 426.7,659.8 429.7,654.4 Z" stroke="#2a72c2" stroke-width="1.6"/><path d="M452.6,649.9 L453.7,713.9" stroke="#2a72c2" stroke-width="1.5"/><path d="M434.3,661.3 C435.4,662.4 441.2,665.5 441.2,668.2 C441.2,670.8 434.3,674.6 434.3,677.3 C434.3,680.0 440.0,683.0 441.2,684.2" stroke="#2a72c2" stroke-width="1.5"/><circle cx="413.7" cy="691.0" r="1.6" fill="none" stroke="#2a72c2" stroke-width="1.2"/><circle cx="420.6" cy="693.3" r="2.2" fill="none" stroke="#2a72c2" stroke-width="1.2"/></g><rect x="1330.5" y="1451" width="173" height="139.5" fill="#e8193c"/><rect x="1331.7" y="1669" width="169" height="144" fill="#2574c4"/><path d="M1292,1749.5 L1324.5,1713 V1737 H1333 V1762 H1324.5 V1781 Z" fill="#2574c4"/><g fill="none" stroke="#3c3c3c" stroke-width="6.5" stroke-linecap="round" stroke-linejoin="round"><path d="M1242,1749 L1275,1747.5"/><path d="M1131,1733 L1134,1753 L1167.5,1741.7"/><path d="M996,1731 C1005,1727 1016,1728 1016,1737 C1016,1745 1005,1746 999,1751 L1040,1745"/><path d="M871,1749 L885.8,1761.5 L894,1751 L907,1757.3 L913.8,1742.5"/><path d="M759,1741 C767,1741 771,1746 771,1751 C771,1757 765,1760 759,1760 C752,1760 747,1755 747,1750 C747,1745 752,1741 759,1741 Z"/><path d="M619.2,1693.8 L577,1696 L579,1715"/><path d="M664,1548 L689,1568 L659.7,1577"/><path d="M776,1472 L740,1484.8 L765.8,1500.4"/><path d="M868.6,1393.5 L845.7,1399.8 L822.7,1403.2 C823,1410 830,1416 837.7,1416 C843,1415 846,1408 845.7,1401"/><path d="M913.2,1336.3 L955.5,1332.3"/><path d="M1004.1,1242.7 L1042,1241.7"/><path d="M1002.2,1259.2 L1043,1254.4"/><path d="M1078,1155.2 L1080,1171.8 L1115.9,1158.2"/><path d="M1073.1,1181.5 L1115.9,1174.7"/><path d="M1057,1062 C1065,1057 1075,1057 1076,1065 C1076,1071 1070,1073 1066,1074 L1097,1074"/><path d="M1059.5,1088.2 L1101.3,1085.3"/><path d="M936,1052.2 L949.7,1062 L955.5,1055 L965.2,1061 L976,1042.5"/><path d="M937,1074.6 L971,1068.7"/><path d="M858,1096 C858,1103 852,1108 845,1108 C838,1108 834,1103 834,1099 C834,1094 840,1093 848,1093 C854,1093 858,1093 858,1096 Z"/><path d="M828.2,1124.1 L866.1,1119.3"/><path d="M751.1,1143 L715.3,1143.8 L717.2,1161.9"/><path d="M714,1172.8 L753,1169"/><path d="M564.3,1220.4 L592.6,1237.4 L557.7,1243"/><path d="M555.8,1256.2 L594.5,1250.6"/><path d="M541.7,1110 L507.7,1121 L541.7,1135.5"/><path d="M504,1142.5 L544,1140.5"/><path d="M540.8,972.3 L517.2,978.9 L507,982 C507,988 511,991 515,990 C519,989 519,983 518,979"/><path d="M505.8,999.6 L540.8,997.7"/><path d="M509.1,826.9 L511,839.2 L541.9,824.4"/><path d="M508.7,642 L542,640"/><path d="M510.7,654 L511.3,668.7 L541.3,656"/><path d="M549.3,483.3 L550.7,496.7 L578.7,486.7"/><path d="M550,506 L552,522 L578.7,508.7"/><path d="M686,526 C690,518 700,518 698,526 C697,531 692,534 691,541 L720,535"/><path d="M688.2,547.7 L691,562.3 L721.2,553.2"/><path d="M795.3,608 L808,619 L811.7,613.6 L819,621 L826.4,597"/><path d="M795.3,628.2 L797,642.8 L826.4,633.7"/><path d="M969,685 C977,685 982,690 982,695 C982,701 975,703 969,703 C962,703 957,699 957,694 C957,689 962,685 969,685 Z"/><path d="M953.5,712.3 L954.4,728.8 L984.6,717.8"/><path d="M1124.7,631.7 L1094.6,639.5 L1095.7,652.9"/><path d="M1093.5,661.8 L1094.6,677.4 L1128,662.9"/><path d="M1216.1,553.6 L1244,563.7 L1218.4,576"/><path d="M1216.1,584.9 L1219.5,602.7 L1250.7,583.7"/><path d="M1395.6,514.6 L1361,526.9 L1392.3,535.8"/><path d="M1364.4,548 L1367.8,564.8 L1393.4,545.8"/><path d="M1455.2,659 L1436.2,666.7 L1426,671 C1425,679 1430,683 1435,682 C1438,680 1437,672 1436,667"/><path d="M1426.7,686.7 L1428.6,706.7 L1456.2,689.5"/><path d="M1421,828 C1428,822 1436,824 1433,832 C1431,838 1427,840 1426,844 L1460,835"/><path d="M1412.4,961.9 L1453.3,957.1"/><path d="M1415,975 C1422,971 1430,971 1428,979 C1426,984 1422,986 1421,989 L1457,981"/><path d="M1419.3,1081 L1424.2,1096.6 L1459.3,1084"/><path d="M1417,1107 C1424,1104 1434,1105 1432,1113 C1430,1119 1426,1122 1425,1126 L1456,1114"/><path d="M1417,1226 C1424,1221 1432,1222 1429,1231 C1427,1237 1421,1239 1419,1243 L1454.5,1234"/><path d="M1417,1251 C1424,1247 1432,1248 1429,1257 C1427,1263 1421,1266 1420,1271 L1455,1259"/><path d="M1412.5,1371.9 L1432,1379.7 L1436,1370 L1440.8,1377.8 L1446.6,1360.2"/><path d="M1409.5,1391 C1416,1387 1424,1388 1422,1396 C1420,1401 1417,1404 1417,1407 L1455,1391"/></g><circle cx="945.2" cy="1319.2" r="5.2" fill="#3c3c3c"/><circle cx="535.1" cy="811.4" r="5.2" fill="#3c3c3c"/><circle cx="1453.3" cy="818.1" r="4.8" fill="#3c3c3c"/><g stroke="#333" stroke-width="1.2"><line x1="58.3" y1="0" x2="58.3" y2="42"/><line x1="0" y1="59" x2="42" y2="59"/><line x1="1711.5" y1="0" x2="1711.5" y2="42"/><line x1="1728" y1="59" x2="1770" y2="59"/><line x1="0" y1="2066.8" x2="42" y2="2066.8"/><line x1="57.6" y1="2083.5" x2="57.6" y2="2125"/><line x1="1728" y1="2066.8" x2="1770" y2="2066.8"/><line x1="1711.4" y1="2083.5" x2="1711.4" y2="2125"/></g><circle cx="885.2" cy="21.3" r="16" fill="#fff"/><circle cx="885.2" cy="21.3" r="13.7" fill="none" stroke="#000" stroke-width="1.3"/><circle cx="885.2" cy="21.3" r="8.1" fill="#000"/><line x1="868.4000000000001" y1="21.3" x2="902.0" y2="21.3" stroke="#000" stroke-width="1.1"/><line x1="885.2" y1="4.5" x2="885.2" y2="38.1" stroke="#000" stroke-width="1.1"/><line x1="877.2" y1="21.3" x2="893.2" y2="21.3" stroke="#ccc" stroke-width="0.9"/><line x1="885.2" y1="13.3" x2="885.2" y2="29.3" stroke="#ccc" stroke-width="0.9"/><circle cx="20.6" cy="1062.4" r="13.7" fill="none" stroke="#000" stroke-width="1.3"/><circle cx="20.6" cy="1062.4" r="8.1" fill="#000"/><line x1="3.8000000000000007" y1="1062.4" x2="37.400000000000006" y2="1062.4" stroke="#000" stroke-width="1.1"/><line x1="20.6" y1="1045.6000000000001" x2="20.6" y2="1079.2" stroke="#000" stroke-width="1.1"/><line x1="12.600000000000001" y1="1062.4" x2="28.6" y2="1062.4" stroke="#ccc" stroke-width="0.9"/><line x1="20.6" y1="1054.4" x2="20.6" y2="1070.4" stroke="#ccc" stroke-width="0.9"/><circle cx="1749.4" cy="1062.4" r="13.7" fill="none" stroke="#000" stroke-width="1.3"/><circle cx="1749.4" cy="1062.4" r="8.1" fill="#000"/><line x1="1732.6000000000001" y1="1062.4" x2="1766.2" y2="1062.4" stroke="#000" stroke-width="1.1"/><line x1="1749.4" y1="1045.6000000000001" x2="1749.4" y2="1079.2" stroke="#000" stroke-width="1.1"/><line x1="1741.4" y1="1062.4" x2="1757.4" y2="1062.4" stroke="#ccc" stroke-width="0.9"/><line x1="1749.4" y1="1054.4" x2="1749.4" y2="1070.4" stroke="#ccc" stroke-width="0.9"/><circle cx="885.2" cy="2104.3" r="16" fill="#fff"/><circle cx="885.2" cy="2104.3" r="13.7" fill="none" stroke="#000" stroke-width="1.3"/><circle cx="885.2" cy="2104.3" r="8.1" fill="#000"/><line x1="868.4000000000001" y1="2104.3" x2="902.0" y2="2104.3" stroke="#000" stroke-width="1.1"/><line x1="885.2" y1="2087.5" x2="885.2" y2="2121.1000000000004" stroke="#000" stroke-width="1.1"/><line x1="877.2" y1="2104.3" x2="893.2" y2="2104.3" stroke="#ccc" stroke-width="0.9"/><line x1="885.2" y1="2096.3" x2="885.2" y2="2112.3" stroke="#ccc" stroke-width="0.9"/></svg>
<div class="rt" style="left:-32.0px;top:655.0px;width:300.0px;height:50.0px;color:#fff;font-size:31px;font-weight:bold;line-height:50px;text-align:center;">مـــدخـــل الـــوحـــدة</div><div class="rt" style="left:1357.2px;top:1434.2px;width:139.5px;height:173.0px;color:#fff;font-size:54px;font-weight:bold;line-height:173px;text-align:center;">النهاية</div><div class="rt" style="left:1349.2px;top:1656.5px;width:144.0px;height:169.0px;color:#fff;font-size:55px;font-weight:bold;line-height:169px;text-align:center;">البداية</div><div class="rt" style="left:202.8px;top:722.2px;width:237.0px;height:116.5px;color:#141414;-webkit-text-stroke:0.35px #141414;text-align:center;display:flex;flex-direction:column;justify-content:center;"><div style="font-size:17.6px;line-height:35px;height:35px">تغسل يديك بالماء والصابون</div><div style="font-size:17.4px;line-height:35px;height:35px">بعد استعمال المرحاض وقبل</div><div style="font-size:18.4px;line-height:35px;height:35px">الطعام (تقدم ٧ خطوات)</div></div><div class="rt" style="left:201.5px;top:1128.4px;width:235.2px;height:117.0px;color:#141414;-webkit-text-stroke:0.35px #141414;text-align:center;display:flex;flex-direction:column;justify-content:center;"><div style="font-size:20.6px;line-height:46px;height:46px">تأكل الطعام غير الصحي</div><div style="font-size:17.8px;line-height:46px;height:46px">(ارجع ٥ خطوات)</div></div><div class="rt" style="left:377.8px;top:1416.6px;width:225.7px;height:104.0px;color:#141414;-webkit-text-stroke:0.35px #141414;text-align:center;display:flex;flex-direction:column;justify-content:center;"><div style="font-size:19.4px;line-height:45px;height:45px">تعطس في وجوه الآخرين</div><div style="font-size:21.5px;line-height:45px;height:45px">(ارجع ٣ خطوات)</div></div><div class="rt" style="left:768.1px;top:394.1px;width:222.8px;height:102.6px;color:#141414;-webkit-text-stroke:0.35px #141414;text-align:center;display:flex;flex-direction:column;justify-content:center;"><div style="font-size:19.4px;line-height:26px;height:26px">تنظف أسنانك بالفرشاة</div><div style="font-size:18.2px;line-height:26px;height:26px">والمعجون</div><div style="font-size:18.6px;line-height:26px;height:26px">(تقدم إلى ٣٣)</div></div><div class="rt" style="left:1053.2px;top:333.4px;width:237.2px;height:116.4px;color:#141414;-webkit-text-stroke:0.35px #141414;text-align:center;display:flex;flex-direction:column;justify-content:center;"><div style="font-size:16.2px;line-height:37px;height:37px">تستعمل المنديل عند العطاس</div><div style="font-size:17.6px;line-height:37px;height:37px">والسعال (تقدم ٥ خطوات)</div></div><div class="rt" style="left:658.3px;top:869.1px;width:233.3px;height:115.1px;color:#141414;-webkit-text-stroke:0.35px #141414;text-align:center;display:flex;flex-direction:column;justify-content:center;"><div style="font-size:21.0px;line-height:44px;height:44px">لا تغسل يديك قبل الأكل</div><div style="font-size:20.4px;line-height:44px;height:44px">(ارجع ٧ خطوات)</div></div><div class="rt" style="left:1126.8px;top:925.4px;width:185.8px;height:103.4px;color:#141414;-webkit-text-stroke:0.35px #141414;text-align:center;display:flex;flex-direction:column;justify-content:center;"><div style="font-size:17.3px;line-height:43px;height:43px">تترك النفايات مكشوفة</div><div style="font-size:17.8px;line-height:43px;height:43px">(ارجع إلى البداية)</div></div><div class="rt" style="left:1011.8px;top:1357.8px;width:220.8px;height:103.6px;color:#141414;-webkit-text-stroke:0.35px #141414;text-align:center;display:flex;flex-direction:column;justify-content:center;"><div style="font-size:17.8px;line-height:35px;height:35px">تغطي الطعام</div><div style="font-size:19.6px;line-height:35px;height:35px">(تقدم ٤ خطوات)</div></div><div class="rt" style="left:1155.0px;top:1268.0px;width:222.0px;height:103.4px;color:#141414;-webkit-text-stroke:0.35px #141414;text-align:center;display:flex;flex-direction:column;justify-content:center;"><div style="font-size:17.3px;line-height:43px;height:43px">تعرف أن التلقيح يمنع حدوث</div><div style="font-size:15.4px;line-height:43px;height:43px">الأمراض بإذن الله (تقدم إلى ٣٤)</div></div><div class="rt" style="left:788.1px;top:1550.9px;width:123.8px;height:127.2px;color:#141414;-webkit-text-stroke:0.35px #141414;text-align:center;display:flex;flex-direction:column;justify-content:center;"><div style="font-size:20.6px;line-height:27.5px;height:27.5px">تتناول وجبة</div><div style="font-size:18.8px;line-height:27.5px;height:27.5px">الفطور ويداك</div><div style="font-size:20.5px;line-height:27.5px;height:27.5px">متسختان</div><div style="font-size:18.8px;line-height:27.5px;height:27.5px">(ارجع للبداية)</div></div>
<div class="foot" style="left:86.8px;">12-99 S3.indd</div>
<div class="foot" style="left:204px;">33</div>
<div class="foot" style="left:1544.9px;">09/09/2022</div>
<div class="foot" style="left:1643.3px;">3:41 PM</div>
<div style="position:absolute;left:145px;top:1982px;color:#fff;font-size:33px;line-height:40px;font-weight:bold;letter-spacing:7px;">٣٣</div>
<svg class="main" style="mix-blend-mode:multiply" width="1770" height="2125" viewBox="0 0 1770 2125" xmlns="http://www.w3.org/2000/svg"><g fill="#d6d6d6"><path fill-rule="evenodd" d="M403,1076 A68,68 0 1,1 267,1076 A68,68 0 1,1 403,1076 Z M304.4,1107.8 V1068 A30.2,30.2 0 0,1 364.8,1068 V1107.8 Z"/><circle cx="310" cy="959.6" r="19.2"/><circle cx="360.7" cy="959.6" r="19.2"/><path d="M370,1107.8 H617.2 V1144.8 H335 Z"/><rect x="578.8" y="1011.7" width="38.4" height="96.2"/><circle cx="555.5" cy="1168" r="19.8"/><circle cx="607.6" cy="1168" r="19.8"/><rect x="666.6" y="906" width="38.4" height="238.8"/><path d="M743,1107 H831.5 V1037 H761 V1000 H828 A42,42 0 0 1 870,1042 V1112 A33,33 0 0 1 837,1145 H743 Z"/><path d="M870,1090 C872,1100 880,1107 895,1107 H1064.6 V1012 H1104.4 V1145 H895 C880,1145 872,1140 866,1130 Z"/><circle cx="1076" cy="1169.5" r="17.3"/><path d="M1151,1128 C1160,1112 1180,1108 1200,1109 C1280,1112 1400,1140 1503,1200 C1430,1182 1360,1172 1300,1174 C1240,1176 1200,1175 1172,1160 C1158,1152 1150,1140 1151,1128 Z"/></g><g fill="#f3ead5"><path d="M1207,877 C1180,930 1150,980 1128,1027 C1140,1060 1160,1090 1185,1112 C1220,1118 1250,1110 1262,1095 C1272,1070 1278,1045 1284,1017 C1262,970 1232,920 1207,877 Z"/><path d="M1158,1170 C1200,1185 1300,1182 1380,1186 C1420,1188 1450,1192 1470,1197 C1430,1201 1380,1198 1320,1196 C1250,1194 1190,1192 1158,1170 Z"/></g></svg>
<svg class="main" width="1770" height="2125" viewBox="0 0 1770 2125" xmlns="http://www.w3.org/2000/svg"><path d="M1213,882 V1003" stroke="#fff" stroke-width="4" opacity="0.45"/><circle cx="1294.5" cy="1153.8" r="22.8" fill="none" stroke="#fff" stroke-width="3" opacity="0.9"/></svg>
<div class="wmt" style="left:279px;top:1176px;font-size:45px;letter-spacing:6.6px;">beadaya.com</div>
<div class="wmt" style="left:650px;top:1188px;width:3px;height:44px;background:#000;"></div>
<div class="wmt" style="left:672px;top:1170px;width:430px;font-size:47px;direction:rtl;text-align:right;">مـوقـع بـدايـة التعليمي</div>
</body></html>
